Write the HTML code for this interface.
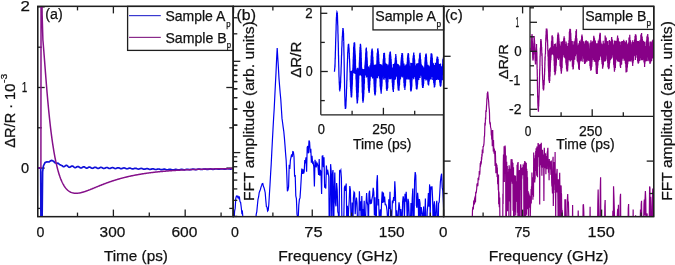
<!DOCTYPE html>
<html><head><meta charset="utf-8"><style>
html,body{margin:0;padding:0;background:#fff;width:675px;height:265px;overflow:hidden}
svg{display:block}
text{font-family:"Liberation Sans", sans-serif;fill:#111;stroke:#111;stroke-width:0.25px}
svg{will-change:transform}
</style></head><body>
<svg xmlns="http://www.w3.org/2000/svg" width="675" height="265" viewBox="0 0 675 265">
<rect width="675" height="265" fill="#fff"/>
<defs>
<clipPath id="ca"><rect x="37.7" y="6.4" width="195.60000000000002" height="210.2"/></clipPath>
<clipPath id="cb"><rect x="233.3" y="6.4" width="210.3" height="210.2"/></clipPath>
<clipPath id="cc"><rect x="443.6" y="6.4" width="210.10000000000002" height="210.2"/></clipPath>
<clipPath id="cib"><rect x="320.8" y="6.4" width="122.80000000000001" height="108.39999999999999"/></clipPath>
<clipPath id="cic"><rect x="530.0" y="6.4" width="123.70000000000005" height="109.89999999999999"/></clipPath>
</defs>
<rect x="37.7" y="6.4" width="195.6" height="210.2" fill="none" stroke="#1e1e1e" stroke-width="1.3"/>
<line x1="41.6" y1="216.6" x2="41.6" y2="209.6" stroke="#1e1e1e" stroke-width="1.3"/>
<line x1="41.6" y1="6.4" x2="41.6" y2="13.4" stroke="#1e1e1e" stroke-width="1.3"/>
<line x1="77.5" y1="216.6" x2="77.5" y2="212.6" stroke="#1e1e1e" stroke-width="1.3"/>
<line x1="77.5" y1="6.4" x2="77.5" y2="10.4" stroke="#1e1e1e" stroke-width="1.3"/>
<line x1="113.39" y1="216.6" x2="113.39" y2="209.6" stroke="#1e1e1e" stroke-width="1.3"/>
<line x1="113.39" y1="6.4" x2="113.39" y2="13.4" stroke="#1e1e1e" stroke-width="1.3"/>
<line x1="149.28" y1="216.6" x2="149.28" y2="212.6" stroke="#1e1e1e" stroke-width="1.3"/>
<line x1="149.28" y1="6.4" x2="149.28" y2="10.4" stroke="#1e1e1e" stroke-width="1.3"/>
<line x1="185.18" y1="216.6" x2="185.18" y2="209.6" stroke="#1e1e1e" stroke-width="1.3"/>
<line x1="185.18" y1="6.4" x2="185.18" y2="13.4" stroke="#1e1e1e" stroke-width="1.3"/>
<line x1="221.08" y1="216.6" x2="221.08" y2="212.6" stroke="#1e1e1e" stroke-width="1.3"/>
<line x1="221.08" y1="6.4" x2="221.08" y2="10.4" stroke="#1e1e1e" stroke-width="1.3"/>
<line x1="37.7" y1="208.4" x2="41.7" y2="208.4" stroke="#1e1e1e" stroke-width="1.3"/>
<line x1="233.3" y1="208.4" x2="229.3" y2="208.4" stroke="#1e1e1e" stroke-width="1.3"/>
<line x1="37.7" y1="168.1" x2="44.7" y2="168.1" stroke="#1e1e1e" stroke-width="1.3"/>
<line x1="233.3" y1="168.1" x2="226.3" y2="168.1" stroke="#1e1e1e" stroke-width="1.3"/>
<line x1="37.7" y1="127.8" x2="41.7" y2="127.8" stroke="#1e1e1e" stroke-width="1.3"/>
<line x1="233.3" y1="127.8" x2="229.3" y2="127.8" stroke="#1e1e1e" stroke-width="1.3"/>
<line x1="37.7" y1="87.5" x2="44.7" y2="87.5" stroke="#1e1e1e" stroke-width="1.3"/>
<line x1="233.3" y1="87.5" x2="226.3" y2="87.5" stroke="#1e1e1e" stroke-width="1.3"/>
<line x1="37.7" y1="47.2" x2="41.7" y2="47.2" stroke="#1e1e1e" stroke-width="1.3"/>
<line x1="233.3" y1="47.2" x2="229.3" y2="47.2" stroke="#1e1e1e" stroke-width="1.3"/>
<line x1="37.7" y1="6.9" x2="44.7" y2="6.9" stroke="#1e1e1e" stroke-width="1.3"/>
<line x1="233.3" y1="6.9" x2="226.3" y2="6.9" stroke="#1e1e1e" stroke-width="1.3"/>
<polyline points="30,168.1 40.7,168.1 41,240 41.9,240 42.6,172 43.4,166 45,162.6 47,161.8 49,162 50.5,160.9 52,160.4 53.5,161.2 55,162.8 56.5,163.3 58,163.2 60,164.8 62.2,165.7 62.6,166.1 63,166.44 63.4,166.64 63.8,166.7 64.2,166.6 64.6,166.38 65,166.09 65.4,165.79 65.8,165.54 66.2,165.41 66.6,165.41 67,165.57 67.4,165.85 67.8,166.22 68.2,166.6 68.6,166.95 69,167.19 69.4,167.3 69.8,167.27 70.2,167.09 70.6,166.83 71,166.53 71.4,166.26 71.8,166.07 72.2,166.02 72.6,166.09 73,166.3 73.4,166.6 73.8,166.95 74.2,167.27 74.6,167.52 75,167.66 75.4,167.66 75.8,167.54 76.2,167.31 76.6,167.04 77,166.78 77.4,166.58 77.8,166.48 78.2,166.5 78.6,166.66 79,166.91 79.4,167.22 79.8,167.54 80.2,167.79 80.6,167.95 81,167.99 81.4,167.9 81.8,167.71 82.2,167.46 82.6,167.2 83,166.97 83.4,166.82 83.8,166.79 84.2,166.88 84.6,167.07 85,167.33 85.4,167.62 85.8,167.87 86.2,168.06 86.6,168.13 87,168.1 87.4,167.96 87.8,167.74 88.2,167.49 88.6,167.26 89,167.09 89.4,167.02 89.8,167.07 90.2,167.21 90.6,167.44 91,167.7 91.4,167.95 91.8,168.15 92.2,168.27 92.6,168.28 93,168.18 93.4,168 93.8,167.78 94.2,167.55 94.6,167.37 95,167.27 95.4,167.26 95.8,167.36 96.2,167.53 96.6,167.76 97,168 97.4,168.21 97.8,168.34 98.2,168.38 98.6,168.32 99,168.17 99.4,167.97 99.8,167.74 100.2,167.55 100.6,167.42 101,167.37 101.4,167.43 101.8,167.57 102.2,167.77 102.6,168 103,168.2 103.4,168.36 103.8,168.43 104.2,168.41 104.6,168.3 105,168.12 105.4,167.92 105.8,167.72 106.2,167.57 106.6,167.5 107,167.52 107.4,167.62 107.8,167.79 108.2,168 108.6,168.2 109,168.37 109.4,168.47 109.8,168.48 110.2,168.41 110.6,168.26 111,168.08 111.4,167.89 111.8,167.73 112.2,167.63 112.6,167.61 113,167.68 113.4,167.82 113.8,168.01 114.2,168.21 114.6,168.38 115,168.5 115.4,168.55 115.8,168.51 116.2,168.4 116.6,168.25 117,168.07 117.4,167.91 117.8,167.8 118.2,167.76 118.6,167.8 119,167.91 119.4,168.08 119.8,168.27 120.2,168.45 120.6,168.58 121,168.66 121.4,168.65 121.8,168.58 122.2,168.44 122.6,168.28 123,168.12 123.4,168 123.8,167.93 124.2,167.94 124.6,168.02 125,168.16 125.4,168.34 125.8,168.52 126.2,168.67 126.6,168.76 127,168.78 127.4,168.74 127.8,168.63 128.2,168.48 128.6,168.33 129,168.2 129.4,168.11 129.8,168.09 130.2,168.15 130.6,168.26 131,168.42 131.4,168.59 131.8,168.74 132.2,168.86 132.6,168.91 133,168.89 133.4,168.8 133.8,168.68 134.2,168.53 134.6,168.4 135,168.3 135.4,168.26 135.8,168.29 136.2,168.38 136.6,168.52 137,168.68 137.4,168.84 137.8,168.96 138.2,169.04 138.6,169.04 139,168.99 139.4,168.89 139.8,168.75 140.2,168.62 140.6,168.51 141,168.46 141.4,168.46 141.8,168.53 142.2,168.64 142.6,168.79 143,168.95 143.4,169.08 143.8,169.17 144.2,169.2 144.6,169.17 145,169.09 145.4,168.97 145.8,168.85 146.2,168.73 146.6,168.66 147,168.64 147.4,168.68 147.8,168.78 148.2,168.91 148.6,169.06 149,169.2 149.4,169.3 149.8,169.35 150.2,169.35 150.6,169.29 151,169.19 151.4,169.07 151.8,168.95 152.2,168.87 152.6,168.83 153,168.85 153.4,168.92 153.8,169.04 154.2,169.18 154.6,169.31 155,169.43 155.4,169.5 155.8,169.51 156.2,169.47 156.6,169.39 157,169.27 157.4,169.16 157.8,169.06 158.2,169.01 158.6,169 159,169.05 159.4,169.15 159.8,169.27 160.2,169.41 160.6,169.53 161,169.61 161.4,169.64 161.8,169.62 162.2,169.56 162.6,169.46 163,169.35 163.4,169.25 163.8,169.18 164.2,169.15 164.6,169.18 165,169.26 165.4,169.37 165.8,169.5 166.2,169.62 166.6,169.72 167,169.77 167.4,169.77 167.8,169.72 168.2,169.64 168.6,169.53 169,169.43 169.4,169.35 169.8,169.31 170.2,169.32 170.6,169.38 171,169.48 171.4,169.6 171.8,169.72 172.2,169.82 172.6,169.89 173,169.91 173.4,169.88 173.8,169.81 174.2,169.72 174.6,169.61 175,169.53 175.4,169.46 175.8,169.43 176.2,169.45 176.6,169.52 177,169.61 177.4,169.72 177.8,169.81 178.2,169.87 178.6,169.89 179,169.87 179.4,169.8 179.8,169.7 180.2,169.58 180.6,169.48 181,169.4 181.4,169.35 181.8,169.36 182.2,169.41 182.6,169.49 183,169.59 183.4,169.68 183.8,169.75 184.2,169.79 184.6,169.78 185,169.73 185.4,169.64 185.8,169.53 186.2,169.43 186.6,169.34 187,169.28 187.4,169.27 187.8,169.3 188.2,169.37 188.6,169.46 189,169.55 189.4,169.63 189.8,169.68 190.2,169.69 190.6,169.65 191,169.58 191.4,169.48 191.8,169.38 192.2,169.28 192.6,169.21 193,169.18 193.4,169.2 193.8,169.25 194.2,169.33 194.6,169.42 195,169.51 195.4,169.57 195.8,169.59 196.2,169.57 196.6,169.51 197,169.43 197.4,169.32 197.8,169.22 198.2,169.15 198.6,169.1 199,169.1 199.4,169.14 199.8,169.21 200.2,169.3 200.6,169.38 201,169.45 201.4,169.49 201.8,169.49 202.2,169.45 202.6,169.37 203,169.27 203.4,169.17 203.8,169.09 204.2,169.04 204.6,169.02 205,169.04 205.4,169.1 205.8,169.18 206.2,169.27 206.6,169.34 207,169.39 207.4,169.4 207.8,169.38 208.2,169.31 208.6,169.22 209,169.13 209.4,169.04 209.8,168.97 210.2,168.94 210.6,168.95 211,168.99 211.4,169.07 211.8,169.15 212.2,169.23 212.6,169.29 213,169.31 213.4,169.3 213.8,169.25 214.2,169.17 214.6,169.08 215,168.99 215.4,168.91 215.8,168.87 216.2,168.86 216.6,168.89 217,168.95 217.4,169.03 217.8,169.11 218.2,169.18 218.6,169.22 219,169.22 219.4,169.18 219.8,169.12 220.2,169.03 220.6,168.94 221,168.86 221.4,168.8 221.8,168.78 222.2,168.8 222.6,168.85 223,168.92 223.4,169 223.8,169.07 224.2,169.12 224.6,169.13 225,169.11 225.4,169.06 225.8,168.98 226.2,168.89 226.6,168.8 227,168.74 227.4,168.7 227.8,168.71 228.2,168.74 228.6,168.81 229,168.88 229.4,168.96 229.8,169.02 230.2,169.04 230.6,169.04 231,168.99 231.4,168.92 231.8,168.84 232.2,168.75 232.6,168.68 233,168.63 233.4,168.62 233.8,168.64 234.2,168.7" fill="none" stroke="#1010d8" stroke-width="1.7" clip-path="url(#ca)" stroke-linejoin="round"/>
<polyline points="30,168.1 40.9,168.1 41.05,-6 41.7,0 42.9,40 43.04,41.55 43.16,42.93 43.28,44.34 43.39,45.79 43.51,47.25 43.63,48.74 43.75,50.25 43.87,51.77 43.99,53.31 44.11,54.85 44.23,56.41 44.35,57.97 44.47,59.54 44.59,61.11 44.71,62.68 44.83,64.25 44.95,65.82 45.07,67.39 45.19,68.95 45.31,70.52 45.43,72.07 45.55,73.62 45.67,75.16 45.79,76.69 45.91,78.22 46.03,79.73 46.15,81.24 46.27,82.73 46.39,84.21 46.51,85.69 46.63,87.15 46.74,88.6 46.86,90.03 46.98,91.46 47.1,92.87 47.22,94.27 47.34,95.65 47.46,97.02 47.58,98.38 47.7,99.73 47.82,101.06 47.94,102.37 48.06,103.68 48.18,104.97 48.3,106.24 48.42,107.5 48.54,108.75 48.66,109.98 48.78,111.2 48.9,112.41 49.02,113.6 49.14,114.78 49.26,115.94 49.38,117.09 49.5,118.23 49.62,119.35 49.74,120.46 49.86,121.56 49.98,122.64 50.1,123.71 50.21,124.77 50.33,125.81 50.45,126.84 50.57,127.86 50.69,128.86 50.81,129.86 50.93,130.84 51.05,131.81 51.17,132.76 51.29,133.7 51.41,134.63 51.53,135.55 51.65,136.46 51.77,137.36 51.89,138.24 52.01,139.11 52.13,139.97 52.25,140.82 52.37,141.66 52.49,142.49 52.61,143.31 52.73,144.11 52.85,144.91 52.97,145.69 53.09,146.47 53.21,147.23 53.33,147.99 53.45,148.73 53.56,149.47 53.68,150.19 53.8,150.9 53.92,151.61 54.04,152.3 54.16,152.99 54.28,153.66 54.4,154.33 54.52,154.99 54.64,155.64 54.76,156.28 54.88,156.91 55,157.53 55.12,158.15 55.24,158.75 55.36,159.35 55.48,159.94 55.6,160.52 55.72,161.09 55.84,161.65 55.96,162.21 56.44,164.36 56.92,166.39 57.39,168.3 57.87,170.11 58.35,171.82 58.83,173.42 59.31,174.93 59.79,176.36 60.27,177.69 60.74,178.95 61.22,180.13 61.7,181.24 62.18,182.28 62.66,183.25 63.14,184.15 63.62,185 64.09,185.79 64.57,186.53 65.05,187.21 65.53,187.85 66.01,188.44 66.49,188.98 66.97,189.48 67.44,189.95 67.92,190.37 68.4,190.76 68.88,191.11 69.36,191.43 69.84,191.72 70.32,191.98 70.79,192.21 71.27,192.42 71.75,192.6 72.23,192.76 72.71,192.89 73.19,193 73.67,193.1 74.14,193.17 74.62,193.23 75.1,193.27 75.58,193.29 76.06,193.3 76.54,193.29 77.02,193.27 77.5,193.23 77.97,193.19 78.45,193.13 78.93,193.06 79.41,192.98 79.89,192.89 80.37,192.8 80.85,192.69 81.32,192.58 81.8,192.46 82.28,192.33 82.76,192.2 83.24,192.06 83.72,191.91 84.2,191.76 84.67,191.61 85.15,191.45 85.63,191.28 86.11,191.11 86.59,190.94 87.07,190.77 87.55,190.59 88.02,190.41 88.5,190.23 88.98,190.04 89.46,189.85 89.94,189.67 90.42,189.47 90.9,189.28 91.37,189.09 91.85,188.9 92.33,188.7 92.81,188.51 93.29,188.31 93.77,188.11 94.25,187.92 94.72,187.72 95.2,187.52 95.68,187.32 96.16,187.13 96.64,186.93 97.12,186.73 97.6,186.54 98.07,186.34 98.55,186.15 99.03,185.95 99.51,185.76 99.99,185.57 100.47,185.37 100.95,185.18 101.43,184.99 101.9,184.81 102.38,184.62 102.86,184.43 103.34,184.25 103.82,184.06 104.3,183.88 104.78,183.7 105.25,183.52 105.73,183.34 106.21,183.16 106.69,182.98 107.17,182.81 107.65,182.63 108.13,182.46 108.6,182.29 109.08,182.12 109.56,181.96 110.04,181.79 110.52,181.62 111,181.46 111.48,181.3 111.95,181.14 112.43,180.98 112.91,180.82 113.39,180.67 113.87,180.51 114.35,180.36 114.83,180.21 115.3,180.06 115.78,179.91 116.26,179.77 116.74,179.62 117.22,179.48 117.7,179.34 118.18,179.2 118.65,179.06 119.13,178.92 119.61,178.79 120.09,178.65 120.57,178.52 121.05,178.39 121.53,178.26 122,178.13 122.48,178 122.96,177.88 123.44,177.75 123.92,177.63 124.4,177.51 124.88,177.39 125.36,177.27 125.83,177.15 126.31,177.04 126.79,176.92 127.27,176.81 127.75,176.7 128.23,176.59 128.71,176.48 129.18,176.37 129.66,176.27 130.14,176.16 130.62,176.06 131.1,175.96 131.58,175.85 132.06,175.75 132.53,175.65 133.01,175.56 133.49,175.46 133.97,175.37 134.45,175.27 134.93,175.18 135.41,175.09 135.88,175 136.36,174.91 136.84,174.82 137.32,174.73 137.8,174.64 138.28,174.56 138.76,174.48 139.23,174.39 139.71,174.31 140.19,174.23 140.67,174.15 141.15,174.07 141.63,173.99 142.11,173.92 142.58,173.84 143.06,173.76 143.54,173.69 144.02,173.62 144.5,173.55 144.98,173.47 145.46,173.4 145.93,173.33 146.41,173.27 146.89,173.2 147.37,173.13 147.85,173.07 148.33,173 148.81,172.94 149.28,172.87 149.76,172.81 150.24,172.75 150.72,172.69 151.2,172.63 151.68,172.57 152.16,172.51 152.64,172.45 153.11,172.39 153.59,172.34 154.07,172.28 154.55,172.23 155.03,172.17 155.51,172.12 155.99,172.07 156.46,172.01 156.94,171.96 157.42,171.91 157.9,171.86 158.38,171.81 158.86,171.76 159.34,171.71 159.81,171.67 160.29,171.62 160.77,171.57 161.25,171.53 161.73,171.48 162.21,171.44 162.69,171.39 163.16,171.35 163.64,171.31 164.12,171.26 164.6,171.22 165.08,171.18 165.56,171.14 166.04,171.1 166.51,171.06 166.99,171.02 167.47,170.98 167.95,170.95 168.43,170.91 168.91,170.87 169.39,170.83 169.86,170.8 170.34,170.76 170.82,170.73 171.3,170.69 171.78,170.66 172.26,170.62 172.74,170.59 173.22,170.56 173.69,170.53 174.17,170.49 174.65,170.46 175.13,170.43 175.61,170.4 176.09,170.37 176.57,170.34 177.04,170.31 177.52,170.28 178,170.25 178.48,170.22 178.96,170.19 179.44,170.17 179.92,170.14 180.39,170.11 180.87,170.09 181.35,170.06 181.83,170.03 182.31,170.01 182.79,169.98 183.27,169.96 183.74,169.93 184.22,169.91 184.7,169.89 185.18,169.86 185.66,169.84 186.14,169.82 186.62,169.79 187.09,169.77 187.57,169.75 188.05,169.73 188.53,169.7 189.01,169.68 189.49,169.66 189.97,169.64 190.44,169.62 190.92,169.6 191.4,169.58 191.88,169.56 192.36,169.54 192.84,169.52 193.32,169.5 193.79,169.49 194.27,169.47 194.75,169.45 195.23,169.43 195.71,169.41 196.19,169.4 196.67,169.38 197.15,169.36 197.62,169.35 198.1,169.33 198.58,169.31 199.06,169.3 199.54,169.28 200.02,169.27 200.5,169.25 200.97,169.23 201.45,169.22 201.93,169.2 202.41,169.19 202.89,169.18 203.37,169.16 203.85,169.15 204.32,169.13 204.8,169.12 205.28,169.11 205.76,169.09 206.24,169.08 206.72,169.07 207.2,169.05 207.67,169.04 208.15,169.03 208.63,169.02 209.11,169 209.59,168.99 210.07,168.98 210.55,168.97 211.02,168.96 211.5,168.95 211.98,168.93 212.46,168.92 212.94,168.91 213.42,168.9 213.9,168.89 214.37,168.88 214.85,168.87 215.33,168.86 215.81,168.85 216.29,168.84 216.77,168.83 217.25,168.82 217.72,168.81 218.2,168.8 218.68,168.79 219.16,168.78 219.64,168.77 220.12,168.77 220.6,168.76 221.08,168.75 221.55,168.74 222.03,168.73 222.51,168.72 222.99,168.71 223.47,168.71 223.95,168.7 224.43,168.69 224.9,168.68 225.38,168.67 225.86,168.67 226.34,168.66 226.82,168.65 227.3,168.64 227.78,168.64 228.25,168.63 228.73,168.62 229.21,168.62 229.69,168.61 230.17,168.6 230.65,168.6 231.13,168.59 231.6,168.58 232.08,168.58 232.56,168.57 233.04,168.56 233.52,168.56 234,168.55 234.48,168.55 234.95,168.54 235.43,168.53 235.91,168.53 236.39,168.52 236.87,168.52 237.35,168.51" fill="none" stroke="#85108a" stroke-width="1.5" clip-path="url(#ca)" stroke-linejoin="round"/>
<rect x="127.6" y="6.4" width="105.7" height="44" fill="#fff" stroke="#1e1e1e" stroke-width="1.3"/>
<line x1="129" y1="15.6" x2="160.8" y2="15.6" stroke="#3a3ad0" stroke-width="1.2"/>
<line x1="129" y1="37.4" x2="160.8" y2="37.4" stroke="#8a2a8a" stroke-width="1.2"/>
<polyline points="232.2,218.99 232.8,222.79 233.4,219.65 234,221.25 234.6,211.11 235.2,208.15 235.8,198.32 236.4,196.16 237,195.84 237.6,197.03 238.2,198.21 238.8,196.5 239.4,197.01 240,201.75 240.6,202.35 241.2,207.02 241.8,212.87 242.4,211.76 243,218.62 243.6,226.81 244.2,238.6 244.8,233.83 245.4,236.34 246,235.92 246.6,230.78 247.2,231.16 247.8,233.13 248.4,231.71 249,240.65 249.6,232.22 250.2,233.65 250.8,233.84 251.4,232.95 252,232.71 252.6,234.84 253.2,233.57 253.8,234.97 254.4,229.96 255,226.68 255.6,223.1 256.2,214.4 256.8,211.59 257.4,205.19 258,199.37 258.6,196.98 259.2,192.65 259.8,191.08 260.4,189.5 261,187.12 261.6,185.5 262.2,183.76 262.8,183.55 263.4,186.29 264,187.67 264.6,189.98 265.2,192.72 265.8,200.29 266.4,206.67 267,207.04 267.6,211.01 268.2,210.28 268.8,204.45 269.4,194.55 270,184.71 270.6,174.02 271.2,164.21 271.8,151.99 272.4,140.52 273,129.31 273.6,118.28 274.2,108.68 274.8,96.51 275.4,84.41 276,72.85 276.6,59.34 277.2,48.11 277.8,58.21 278.4,67.7 279,78.64 279.6,86.03 280.2,93.23 280.8,99.5 281.4,108.98 282,118.4 282.6,122.72 283.2,127.4 283.8,131.47 284.4,137.87 285,145.35 285.6,153.61 286.2,160.76 286.8,175.19 287.4,191.28 288,189.78 288.6,186.57 289.2,164.73 289.8,168.95 290.4,160.19 291,157.32 291.6,154.34 292.2,157.04 292.8,151.68 293.4,151.89 294,156.6 294.6,176.62 295.2,175 295.8,195.84 296.4,198.59 297,214.13 297.6,217.01 298.2,218.17 298.8,205.1 299.4,199.51 300,197.91 300.6,189.29 301.2,178.98 301.8,168.45 302.4,173.91 303,169.37 303.6,173.67 304.2,171.7 304.8,160.15 305.4,161.65 306,157.32 306.6,171.72 307.2,147.39 307.8,146.04 308.4,153.34 309,140.44 309.6,142.22 310.2,152.61 310.8,148.86 311.4,162.81 312,155.69 312.6,163 313.2,162.34 313.8,166.79 314.4,186.57 315,159.73 315.6,163.76 316.2,167.41 316.8,162.77 317.4,164.05 318,166.56 318.6,174.95 319.2,158.94 319.8,175.8 320.4,169.81 321,172.58 321.6,194 322.2,156.15 322.8,155.93 323.4,167.19 324,157.33 324.6,187.66 325.2,186.09 325.8,188.51 326.4,165.5 327,174.72 327.6,169.71 328.2,172.99 328.8,177.02 329.4,246.05 330,216.77 330.6,164.15 331.2,171.35 331.8,225.03 332.4,174.33 333,169.98 333.6,238.6 334.2,191.47 334.8,172.5 335.4,202.75 336,206.3 336.6,183 337.2,189.85 337.8,211.62 338.4,213.97 339,230.71 339.6,170.91 340.2,171.43 340.8,170.16 341.4,178.09 342,229.09 342.6,232.96 343.2,222.25 343.8,219.22 344.4,187.89 345,185.59 345.6,190.88 346.2,183.5 346.8,224.76 347.4,205.79 348,227.92 348.6,209.41 349.2,200.96 349.8,186.02 350.4,190.09 351,218.27 351.6,234.27 352.2,202.54 352.8,229.88 353.4,198.14 354,191.94 354.6,192.84 355.2,214.24 355.8,203.94 356.4,197.62 357,202.82 357.6,224.22 358.2,217.05 358.8,222.31 359.4,191.34 360,210.71 360.6,201.2 361.2,222.29 361.8,196.08 362.4,218.46 363,209.12 363.6,216.33 364.2,200.85 364.8,231.27 365.4,223.25 366,204.69 366.6,193 367.2,202.46 367.8,205.25 368.4,227.28 369,193.49 369.6,190.74 370.2,204.1 370.8,199.62 371.4,203.72 372,198.55 372.6,195.97 373.2,187.8 373.8,192.31 374.4,215.39 375,197.36 375.6,218.83 376.2,230.54 376.8,182.25 377.4,175.14 378,205.5 378.6,199.06 379.2,218.48 379.8,218.12 380.4,209.2 381,218.38 381.6,202.11 382.2,191.46 382.8,202.96 383.4,192.54 384,202.09 384.6,196.49 385.2,204.55 385.8,204.5 386.4,206.14 387,210.3 387.6,218.93 388.2,225.46 388.8,199.38 389.4,208.95 390,191.71 390.6,218.86 391.2,210.96 391.8,216.13 392.4,200.45 393,203.19 393.6,197.15 394.2,201.03 394.8,181.21 395.4,192.56 396,217.7 396.6,210.28 397.2,216.66 397.8,229.29 398.4,211.02 399,202.4 399.6,206.72 400.2,220.19 400.8,209.15 401.4,215.46 402,228.65 402.6,202.03 403.2,196.4 403.8,200.1 404.4,218.84 405,193.66 405.6,201.76 406.2,191.78 406.8,205.04 407.4,228.28 408,198.83 408.6,201.75 409.2,215.89 409.8,224.29 410.4,223.49 411,203.14 411.6,222.16 412.2,199.05 412.8,188.41 413.4,229.97 414,227.01 414.6,180.34 415.2,171.99 415.8,175.47 416.4,205.76 417,207.85 417.6,192.74 418.2,199.83 418.8,228.46 419.4,199 420,203.09 420.6,228.25 421.2,207.03 421.8,211.01 422.4,214.14 423,236.35 423.6,206.43 424.2,242.46 424.8,217.48 425.4,198.49 426,236.16 426.6,239.3 427.2,211.83 427.8,204.75 428.4,193.04 429,206.69 429.6,184.39 430.2,216.93 430.8,186.62 431.4,188.02 432,186.36 432.6,198.65 433.2,228.22 433.8,206.17 434.4,201.29 435,228.48 435.6,217.29 436.2,205.94 436.8,200.8 437.4,222.34 438,236.98 438.6,203.39 439.2,202.08 439.8,192.34 440.4,181.73 441,176.6 441.6,173.68 442.2,187.14 442.8,190.56 443.4,202.58 444,220.29 444.6,205.41" fill="none" stroke="#0000f0" stroke-width="1.2" clip-path="url(#cb)"/>
<polyline points="559.65,234.55 560,205.76 560.35,210.11 560.7,228.48 561.05,208.75 561.4,206.78 561.75,213.54 562.1,241.58 562.45,246.6 562.8,246.6 563.15,246.6 563.5,246.6 563.85,246.6 564.2,228.85 564.55,246.6 564.9,199.22 565.25,211.66 565.6,199.18 565.95,246.6 566.3,246.6 566.65,246.6 567,221.13 567.35,200.32 567.7,194.03 568.05,204.05 568.4,201.4 568.75,217.01 569.1,230.8 569.45,246.6 569.8,246.6 570.15,246.6 570.5,246.6 570.85,242.37 571.2,240.16 571.55,237.36 571.9,228.52 572.25,246.6 572.6,205.05 572.95,246.6 573.3,228.47 573.65,246.6 574,240.77 574.35,246.6 574.7,246.6 575.05,244.62 575.4,246.6 575.75,237.99 576.1,228.8 576.45,236.87 576.8,241.9 577.15,246.6 577.5,216.32 577.85,242.92 578.2,210.55 578.55,223.45 578.9,246.6 579.25,239.93 579.6,246.6 579.95,236.19 580.3,246.04 580.65,246.6 581,246.6 581.35,246.6 581.7,242.8 582.05,234.77 582.4,246.6 582.75,246.6 583.1,205.36 583.45,204.25 583.8,211.61 584.15,231.52 584.5,239.98 584.85,246.6 585.2,246.16 585.55,219.75 585.9,231.24 586.25,234.03 586.6,246.6 586.95,246.6 587.3,246.6 587.65,246.6 588,246.6 588.35,245.36 588.7,246.6 589.05,226.8 589.4,231.55 589.75,237.93 590.1,206.83 590.45,246.6 590.8,227.68 591.15,246.6 591.5,246.6 591.85,246.6 592.2,246.6 592.55,230.58 592.9,246.6 593.25,246.6 593.6,246.6 593.95,246.6 594.3,246.6 594.65,246.6 595,217.34 595.35,241.7 595.7,219.32 596.05,229.32 596.4,241.15 596.75,240.96 597.1,230.57 597.45,238.13 597.8,204.39 598.15,189.46 598.5,205.87 598.85,226.31 599.2,246.6 599.55,246.6 599.9,246.6 600.25,189.66 600.6,177.28 600.95,238.31 601.3,246.6 601.65,246.6 602,232.17 602.35,246.6 602.7,246.6 603.05,246.6 603.4,246.6 603.75,246.6 604.1,246.6 604.45,246.6 604.8,206.58 605.15,199.98 605.5,246.6 605.85,246.6 606.2,246.6 606.55,246.6 606.9,246.6 607.25,246.6 607.6,234.54 607.95,235.35 608.3,244.02 608.65,245.86 609,246.6 609.35,246.6 609.7,246.6 610.05,246.6 610.4,246.6 610.75,246.6 611.1,233.42 611.45,246.6 611.8,246.6 612.15,227.33 612.5,234.54 612.85,210.68 613.2,246.6 613.55,186.21 613.9,195.53 614.25,207.11 614.6,221.96 614.95,245.57 615.3,234.92 615.65,223.56 616,218.55 616.35,218.16 616.7,219.52 617.05,225.58 617.4,213.45 617.75,208.72 618.1,221.49 618.45,204.83 618.8,241.78 619.15,246.6 619.5,246.6 619.85,243 620.2,197.5 620.55,193.83 620.9,246.6 621.25,233.55 621.6,230.6 621.95,246.6 622.3,233.28 622.65,232.66 623,218.19 623.35,229.21 623.7,246.6 624.05,246.6 624.4,246.6 624.75,246.6 625.1,246.6 625.45,243.72 625.8,246.6 626.15,246.6 626.5,246.6 626.85,246.6 627.2,246.6 627.55,246.6 627.9,246.6 628.25,208.51 628.6,204.11 628.95,235.85 629.3,246.6 629.65,234.54 630,246.6 630.35,246.6 630.7,246.6 631.05,246.6 631.4,246.6 631.75,246.6 632.1,222.89 632.45,217.73 632.8,242.34 633.15,209.4 633.5,244.71 633.85,246.6 634.2,229.91 634.55,246.6 634.9,246.6 635.25,243.04 635.6,215.19 635.95,242.18 636.3,219.71 636.65,246.6 637,221.53 637.35,222.12 637.7,215.91 638.05,246.6 638.4,239.11 638.75,219.99 639.1,246.6 639.45,245.93 639.8,246.6 640.15,223.22 640.5,209.5 640.85,246.6 641.2,204.48 641.55,200.87 641.9,234.95 642.25,228 642.6,243.89 642.95,241.98 643.3,246.6 643.65,221.38 644,204.07 644.35,199.52 644.7,215.52 645.05,199.04 645.4,191.09 645.75,199.57 646.1,226.74 646.45,244.27 646.8,216.47 647.15,213.41 647.5,246.6 647.85,246.6 648.2,246.6 648.55,246.6 648.9,216.79 649.25,221.06 649.6,186.42 649.95,187.83 650.3,246.6 650.65,196.66 651,206.08 651.35,223.52 651.7,220.91 652.05,246.6 652.4,198.81 652.75,188.56 653.1,246.6 653.45,229.79 653.8,246.6 654.15,197.42" fill="none" stroke="#870087" stroke-width="1.2" clip-path="url(#cc)"/>
<polyline points="443.3,246.6 443.5,246.6 443.7,246.6 443.9,246.6 444.1,246.6 444.3,246.6 444.5,246.6 444.7,246.6 444.9,246.6 445.1,246.6 445.3,246.6 445.5,246.6 445.7,246.6 445.9,246.6 446.1,246.6 446.3,246.6 446.5,246.6 446.7,246.6 446.9,246.6 447.1,246.6 447.3,246.6 447.5,246.6 447.7,246.6 447.9,246.6 448.1,246.6 448.3,246.6 448.5,246.6 448.7,246.6 448.9,246.6 449.1,246.6 449.3,246.6 449.5,246.6 449.7,246.6 449.9,246.6 450.1,246.6 450.3,246.6 450.5,246.6 450.7,246.6 450.9,246.6 451.1,246.6 451.3,246.6 451.5,246.6 451.7,246.6 451.9,246.6 452.1,246.6 452.3,246.6 452.5,246.6 452.7,246.6 452.9,246.6 453.1,246.6 453.3,246.6 453.5,246.6 453.7,246.6 453.9,246.6 454.1,246.6 454.3,246.6 454.5,246.6 454.7,246.6 454.9,246.6 455.1,246.6 455.3,246.6 455.5,246.6 455.7,246.6 455.9,246.6 456.1,246.6 456.3,246.6 456.5,246.6 456.7,246.6 456.9,246.6 457.1,246.6 457.3,246.6 457.5,246.6 457.7,246.6 457.9,246.6 458.1,246.6 458.3,246.6 458.5,246.6 458.7,246.6 458.9,246.6 459.1,246.6 459.3,246.6 459.5,246.6 459.7,246.6 459.9,246.6 460.1,246.6 460.3,246.6 460.5,246.6 460.7,246.6 460.9,246.6 461.1,246.6 461.3,246.6 461.5,246.6 461.7,246.6 461.9,246.6 462.1,246.6 462.3,246.6 462.5,246.6 462.7,246.6 462.9,246.6 463.1,246.6 463.3,246.6 463.5,246.6 463.7,246.6 463.9,246.6 464.1,246.6 464.3,246.6 464.5,246.6 464.7,246.6 464.9,246.6 465.1,246.6 465.3,246.6 465.5,246.6 465.7,246.6 465.9,246.6 466.1,246.6 466.3,246.6 466.5,246.6 466.7,246.6 466.9,246.6 467.1,246.6 467.3,246.6 467.5,246.6 467.7,246.6 467.9,246.6 468.1,246.6 468.3,246.6 468.5,246.6 468.7,246.6 468.9,246.6 469.1,246.6 469.3,246.6 469.5,246.6 469.7,246.6 469.9,246.6 470.1,246.6 470.3,246.6 470.5,246 470.7,235.36 470.9,238.69 471.1,237.38 471.3,226.7 471.5,227.21 471.7,223.21 471.9,216.76 472.1,217.83 472.3,217.61 472.5,210.1 472.7,208.58 472.9,206.7 473.1,208.66 473.3,209.38 473.5,206.33 473.7,201.1 473.9,200.84 474.1,204.76 474.3,199.66 474.5,204.13 474.7,197.56 474.9,202.68 475.1,197.22 475.3,195.92 475.5,202.31 475.7,192.53 475.9,192.57 476.1,192.9 476.3,192.45 476.5,190.28 476.7,188.83 476.9,185.39 477.1,185.58 477.3,183.45 477.5,183.37 477.7,186.02 477.9,185.13 478.1,178.78 478.3,178.84 478.5,177.5 478.7,180.09 478.9,176.92 479.1,176.41 479.3,171.1 479.5,173.53 479.7,174.81 479.9,172.01 480.1,166.95 480.3,163.08 480.5,166.84 480.7,161.36 480.9,164.78 481.1,162.55 481.3,163.42 481.5,157.08 481.7,159.75 481.9,154.03 482.1,156.43 482.3,149.46 482.5,152.32 482.7,151.15 482.9,153.32 483.1,145.96 483.3,146.87 483.5,146.04 483.7,145.5 483.9,144.19 484.1,141.58 484.3,136.17 484.5,136.63 484.7,131.72 484.9,122.78 485.1,125.82 485.3,123.62 485.5,117.44 485.7,119.58 485.9,110.37 486.1,111.22 486.3,111.27 486.5,105.87 486.7,104.04 486.9,98.68 487.1,97.81 487.3,93.15 487.5,93.92 487.7,91.56 487.9,93.15 488.1,95.69 488.3,98.57 488.5,99.92 488.7,102.22 488.9,105.98 489.1,108.09 489.3,109.23 489.5,113.21 489.7,121.9 489.9,123.35 490.1,123.16 490.3,122.22 490.5,126.58 490.7,127.66 490.9,128.13 491.1,129.73 491.3,135.52 491.5,130.14 491.7,138.66 491.9,139.58 492.1,137.25 492.3,146.16 492.5,131.2 492.7,130.05 492.9,139.74 493.1,141.9 493.3,151.47 493.5,139.92 493.7,146.89 493.9,150.15 494.1,153.61 494.3,148.6 494.5,150.5 494.7,152.16 494.9,156.95 495.1,166.05 495.3,150.66 495.5,156.02 495.7,164.41 495.9,173.19 496.1,171.25 496.3,163.21 496.5,165.38 496.7,168.79 496.9,164.84 497.1,177.07 497.3,167.5 497.5,175.71 497.7,184.18 497.9,176.67 498.1,180.77 498.3,190.17 498.5,174.6 498.7,204.35 498.9,191.57 499.1,194.1 499.3,207.32 499.5,204.15 499.7,197.51 499.9,221.75 500.1,221.61 500.3,219.23 500.5,220.83 500.7,221.07 500.9,231.92 501.1,246.6 501.3,226.34 501.5,233.72 501.7,221.55 501.9,246.6 502.1,229.76 502.3,228.57 502.5,223.71 502.7,238.54 502.9,193.79 503.1,204.04 503.3,163 503.5,154.59 503.7,174.73 503.9,178.56 504.1,146.27 504.3,182.1 504.5,160.61 504.7,152.21 504.9,156.52 505.1,145.57 505.3,148.75 505.5,160.72 505.7,179.44 505.9,225.35 506.1,155.55 506.3,234.26 506.5,193.41 506.7,161.63 506.9,190.74 507.1,188.49 507.3,166.08 507.5,211.22 507.7,171.85 507.9,200.82 508.1,200.45 508.3,196.29 508.5,190.97 508.7,169.04 508.9,232.25 509.1,165.17 509.3,167.83 509.5,175.9 509.7,201.48 509.9,170.44 510.1,177.21 510.3,186.45 510.5,168.82 510.7,220 510.9,167.35 511.1,159.23 511.3,160.04 511.5,177.71 511.7,181.82 511.9,162.17 512.1,159.28 512.3,183.68 512.5,162.38 512.7,172.84 512.9,162.92 513.1,210.85 513.3,180.33 513.5,167.16 513.7,244.47 513.9,176.61 514.1,204.8 514.3,222.11 514.5,176.74 514.7,175.34 514.9,178.37 515.1,211.66 515.3,182.95 515.5,175.77 515.7,215.55 515.9,190.37 516.1,201.95 516.3,200.48 516.5,196.69 516.7,181.23 516.9,184.07 517.1,164.68 517.3,177.86 517.5,212.81 517.7,162.76 517.9,217.1 518.1,161.88 518.3,187.6 518.5,238.32 518.7,193.69 518.9,186.06 519.1,170.55 519.3,222.77 519.5,169.97 519.7,178.63 519.9,226.62 520.1,172.2 520.3,189.62 520.5,166.67 520.7,164.39 520.9,166.41 521.1,189.76 521.3,176.12 521.5,228.82 521.7,175.64 521.9,178.68 522.1,168.05 522.3,169.03 522.5,167.19 522.7,169.02 522.9,175.12 523.1,165.59 523.3,165.81 523.5,164.59 523.7,167.7 523.9,223.15 524.1,178.63 524.3,162.98 524.5,245.26 524.7,160.93 524.9,206.59 525.1,162 525.3,162.07 525.5,166.73 525.7,228.45 525.9,168.22 526.1,201.01 526.3,162.74 526.5,214.81 526.7,168.73 526.9,203.61 527.1,171.02 527.3,194.41 527.5,177.17 527.7,209.22 527.9,205.25 528.1,191.11 528.3,205.64 528.5,224.93 528.7,192.59 528.9,199.53 529.1,194.35 529.3,202.46 529.5,195.53 529.7,207.82 529.9,196.24 530.1,199.28 530.3,216.56 530.5,206.91 530.7,202.02 530.9,199.24 531.1,188.91 531.3,203.46 531.5,186.22 531.7,194.94 531.9,172.52 532.1,180.3 532.3,189.06 532.5,193.94 532.7,179.32 532.9,199.7 533.1,177.19 533.3,182.84 533.5,196.85 533.7,152.6 533.9,168.21 534.1,158.87 534.3,158.16 534.5,171.19 534.7,182.55 534.9,178.85 535.1,179.6 535.3,155.16 535.5,170.92 535.7,151.09 535.9,158.07 536.1,148.14 536.3,161.48 536.5,167.83 536.7,175.86 536.9,146.48 537.1,148.31 537.3,164 537.5,177.31 537.7,149.55 537.9,147.78 538.1,143.14 538.3,143.7 538.5,157.12 538.7,155.73 538.9,151.61 539.1,144.87 539.3,166.75 539.5,165.17 539.7,204.46 539.9,150.2 540.1,143.98 540.3,145.34 540.5,152.49 540.7,165.18 540.9,147.76 541.1,145.6 541.3,142.7 541.5,167.87 541.7,160.85 541.9,175.74 542.1,151.97 542.3,168.04 542.5,149.79 542.7,154.24 542.9,165.81 543.1,154.77 543.3,166.72 543.5,154.57 543.7,165.1 543.9,201.07 544.1,161.48 544.3,147.67 544.5,153.52 544.7,158.16 544.9,152.98 545.1,168.27 545.3,156.35 545.5,154.72 545.7,153.4 545.9,174.28 546.1,156.1 546.3,163.2 546.5,166.52 546.7,160.39 546.9,167.14 547.1,169.32 547.3,151.42 547.5,158.93 547.7,148.76 547.9,147.83 548.1,163.09 548.3,163.95 548.5,172.74 548.7,166.87 548.9,166.03 549.1,180.16 549.3,158.94 549.5,165.77 549.7,166.42 549.9,162.77 550.1,165 550.3,161.18 550.5,169.38 550.7,161.35 550.9,173.91 551.1,174.74 551.3,160.56 551.5,168.09 551.7,182.72 551.9,186.41 552.1,173.4 552.3,189.85 552.5,193.54 552.7,176.33 552.9,159.16 553.1,156.87 553.3,205.9 553.5,197.02 553.7,176.95 553.9,193.05 554.1,161.89 554.3,184.55 554.5,170.64 554.7,176.72 554.9,183.79 555.1,152.05 555.3,190 555.5,177.13 555.7,227.53 555.9,173.38 556.1,192.4 556.3,182.24 556.5,187.03 556.7,175.09 556.9,171.08 557.1,168.91 557.3,192.48 557.5,180.22 557.7,184.4 557.9,199.35 558.1,217.62 558.3,179.26 558.5,209.72 558.7,192 558.9,220.35 559.1,180.58 559.3,187.74 559.5,180.24 559.7,172.75 559.9,189.4 560.1,187.28 560.3,232.91 560.5,211.6 560.7,186.71 560.9,186.55 561.1,185.44 561.3,192.64 561.5,194.15 561.7,209.34 561.9,219.52 562.1,217.17 562.3,210.28" fill="none" stroke="#870087" stroke-width="1.2" clip-path="url(#cc)"/>
<rect x="233.3" y="6.4" width="210.3" height="210.2" fill="none" stroke="#1e1e1e" stroke-width="1.3"/>
<rect x="443.6" y="6.4" width="210.1" height="210.2" fill="none" stroke="#1e1e1e" stroke-width="1.3"/>
<line x1="233.5" y1="216.6" x2="233.5" y2="209.6" stroke="#1e1e1e" stroke-width="1.3"/>
<line x1="233.5" y1="6.4" x2="233.5" y2="13.4" stroke="#1e1e1e" stroke-width="1.3"/>
<line x1="443.6" y1="216.6" x2="443.6" y2="209.6" stroke="#1e1e1e" stroke-width="1.3"/>
<line x1="443.6" y1="6.4" x2="443.6" y2="13.4" stroke="#1e1e1e" stroke-width="1.3"/>
<line x1="272.88" y1="216.6" x2="272.88" y2="212.6" stroke="#1e1e1e" stroke-width="1.3"/>
<line x1="272.88" y1="6.4" x2="272.88" y2="10.4" stroke="#1e1e1e" stroke-width="1.3"/>
<line x1="483.1" y1="216.6" x2="483.1" y2="212.6" stroke="#1e1e1e" stroke-width="1.3"/>
<line x1="483.1" y1="6.4" x2="483.1" y2="10.4" stroke="#1e1e1e" stroke-width="1.3"/>
<line x1="312.25" y1="216.6" x2="312.25" y2="209.6" stroke="#1e1e1e" stroke-width="1.3"/>
<line x1="522.6" y1="216.6" x2="522.6" y2="209.6" stroke="#1e1e1e" stroke-width="1.3"/>
<line x1="522.6" y1="6.4" x2="522.6" y2="13.4" stroke="#1e1e1e" stroke-width="1.3"/>
<line x1="351.62" y1="216.6" x2="351.62" y2="212.6" stroke="#1e1e1e" stroke-width="1.3"/>
<line x1="562.1" y1="216.6" x2="562.1" y2="212.6" stroke="#1e1e1e" stroke-width="1.3"/>
<line x1="562.1" y1="6.4" x2="562.1" y2="10.4" stroke="#1e1e1e" stroke-width="1.3"/>
<line x1="391" y1="216.6" x2="391" y2="209.6" stroke="#1e1e1e" stroke-width="1.3"/>
<line x1="601.6" y1="216.6" x2="601.6" y2="209.6" stroke="#1e1e1e" stroke-width="1.3"/>
<line x1="601.6" y1="6.4" x2="601.6" y2="13.4" stroke="#1e1e1e" stroke-width="1.3"/>
<line x1="430.38" y1="216.6" x2="430.38" y2="212.6" stroke="#1e1e1e" stroke-width="1.3"/>
<line x1="641.09" y1="216.6" x2="641.09" y2="212.6" stroke="#1e1e1e" stroke-width="1.3"/>
<line x1="641.09" y1="6.4" x2="641.09" y2="10.4" stroke="#1e1e1e" stroke-width="1.3"/>
<line x1="233.3" y1="61.3" x2="240.3" y2="61.3" stroke="#1e1e1e" stroke-width="1.3"/>
<line x1="233.3" y1="152.6" x2="240.3" y2="152.6" stroke="#1e1e1e" stroke-width="1.3"/>
<line x1="233.3" y1="125.12" x2="237.3" y2="125.12" stroke="#1e1e1e" stroke-width="1.3"/>
<line x1="233.3" y1="109.04" x2="237.3" y2="109.04" stroke="#1e1e1e" stroke-width="1.3"/>
<line x1="233.3" y1="97.63" x2="237.3" y2="97.63" stroke="#1e1e1e" stroke-width="1.3"/>
<line x1="233.3" y1="88.78" x2="237.3" y2="88.78" stroke="#1e1e1e" stroke-width="1.3"/>
<line x1="233.3" y1="81.55" x2="237.3" y2="81.55" stroke="#1e1e1e" stroke-width="1.3"/>
<line x1="233.3" y1="75.44" x2="237.3" y2="75.44" stroke="#1e1e1e" stroke-width="1.3"/>
<line x1="233.3" y1="70.15" x2="237.3" y2="70.15" stroke="#1e1e1e" stroke-width="1.3"/>
<line x1="233.3" y1="65.48" x2="237.3" y2="65.48" stroke="#1e1e1e" stroke-width="1.3"/>
<line x1="233.3" y1="216.42" x2="237.3" y2="216.42" stroke="#1e1e1e" stroke-width="1.3"/>
<line x1="233.3" y1="200.34" x2="237.3" y2="200.34" stroke="#1e1e1e" stroke-width="1.3"/>
<line x1="233.3" y1="188.93" x2="237.3" y2="188.93" stroke="#1e1e1e" stroke-width="1.3"/>
<line x1="233.3" y1="180.08" x2="237.3" y2="180.08" stroke="#1e1e1e" stroke-width="1.3"/>
<line x1="233.3" y1="172.85" x2="237.3" y2="172.85" stroke="#1e1e1e" stroke-width="1.3"/>
<line x1="233.3" y1="166.74" x2="237.3" y2="166.74" stroke="#1e1e1e" stroke-width="1.3"/>
<line x1="233.3" y1="161.45" x2="237.3" y2="161.45" stroke="#1e1e1e" stroke-width="1.3"/>
<line x1="233.3" y1="156.78" x2="237.3" y2="156.78" stroke="#1e1e1e" stroke-width="1.3"/>
<line x1="233.3" y1="33.82" x2="237.3" y2="33.82" stroke="#1e1e1e" stroke-width="1.3"/>
<line x1="233.3" y1="17.74" x2="237.3" y2="17.74" stroke="#1e1e1e" stroke-width="1.3"/>
<line x1="233.3" y1="125.12" x2="237.3" y2="125.12" stroke="#1e1e1e" stroke-width="1.3"/>
<line x1="233.3" y1="109.04" x2="237.3" y2="109.04" stroke="#1e1e1e" stroke-width="1.3"/>
<line x1="233.3" y1="97.63" x2="237.3" y2="97.63" stroke="#1e1e1e" stroke-width="1.3"/>
<line x1="233.3" y1="88.78" x2="237.3" y2="88.78" stroke="#1e1e1e" stroke-width="1.3"/>
<line x1="233.3" y1="81.55" x2="237.3" y2="81.55" stroke="#1e1e1e" stroke-width="1.3"/>
<line x1="233.3" y1="75.44" x2="237.3" y2="75.44" stroke="#1e1e1e" stroke-width="1.3"/>
<line x1="233.3" y1="70.15" x2="237.3" y2="70.15" stroke="#1e1e1e" stroke-width="1.3"/>
<line x1="233.3" y1="65.48" x2="237.3" y2="65.48" stroke="#1e1e1e" stroke-width="1.3"/>
<line x1="443.6" y1="56.3" x2="450.6" y2="56.3" stroke="#1e1e1e" stroke-width="1.3"/>
<line x1="653.7" y1="56.3" x2="646.7" y2="56.3" stroke="#1e1e1e" stroke-width="1.3"/>
<line x1="443.6" y1="161.1" x2="450.6" y2="161.1" stroke="#1e1e1e" stroke-width="1.3"/>
<line x1="653.7" y1="161.1" x2="646.7" y2="161.1" stroke="#1e1e1e" stroke-width="1.3"/>
<line x1="443.6" y1="88.4" x2="447.6" y2="88.4" stroke="#1e1e1e" stroke-width="1.3"/>
<line x1="653.7" y1="88.4" x2="649.7" y2="88.4" stroke="#1e1e1e" stroke-width="1.3"/>
<line x1="443.6" y1="193.5" x2="447.6" y2="193.5" stroke="#1e1e1e" stroke-width="1.3"/>
<line x1="653.7" y1="193.5" x2="649.7" y2="193.5" stroke="#1e1e1e" stroke-width="1.3"/>
<rect x="320.8" y="6.4" width="122.80000000000001" height="108.39999999999999" fill="#fff"/>
<polyline points="334.4,71.15 334.47,71.66 334.54,70.6 334.61,70.05 334.68,69.07 334.75,68.32 334.82,67.85 334.89,65.97 334.96,64.94 335.03,65.06 335.1,61.8 335.17,57.76 335.24,58.96 335.31,55.35 335.38,51.74 335.45,51.19 335.52,47.84 335.59,44.7 335.66,42.14 335.74,39.23 335.81,37.74 335.88,36.25 335.95,32.39 336.02,30.74 336.09,29.87 336.16,24.56 336.23,23.92 336.3,21.37 336.37,18.78 336.44,17.13 336.51,16.63 336.58,15.74 336.65,13.63 336.72,13.27 336.79,13.19 336.86,12.23 336.93,12.48 337,11.96 337.07,12.11 337.14,13.81 337.21,13.21 337.28,13.55 337.35,15.2 337.42,14.86 337.49,16.95 337.56,19.79 337.63,21.53 337.7,24.54 337.77,25.27 337.84,26.22 337.91,32.19 337.98,34.02 338.05,34.67 338.12,40 338.19,41.62 338.26,42.8 338.33,47.25 338.4,50.24 338.47,55.42 338.54,56.1 338.61,59.66 338.68,62.6 338.75,65.39 338.82,67.66 338.89,71.48 338.96,74.9 339.03,76.86 339.1,77.58 339.17,79.45 339.24,82.62 339.31,83.51 339.38,85.09 339.45,85.33 339.52,90.03 339.59,89.83 339.66,88.54 339.73,90.79 339.8,91.34 339.87,87.54 339.94,89.18 340.01,88.99 340.08,89.55 340.15,88.17 340.22,87.33 340.29,86.63 340.36,87.55 340.43,86.75 340.5,82.85 340.57,81.12 340.64,83.3 340.71,78.11 340.78,76.9 340.85,75.81 340.92,74.49 340.99,73.19 341.06,70.66 341.13,67.45 341.2,66.85 341.27,64.57 341.34,64.16 341.41,60.21 341.49,56.83 341.56,55.07 341.63,55.53 341.7,51.52 341.77,47.97 341.84,47.55 341.91,46.24 341.98,45.59 342.05,41.61 342.12,41.6 342.19,40.11 342.26,37.09 342.33,36.17 342.4,36.8 342.47,35.53 342.54,33.56 342.61,32.04 342.68,31.98 342.75,29.96 342.82,29.4 342.89,28.16 342.96,28.68 343.03,28.39 343.1,31.17 343.17,28.4 343.24,30.45 343.32,31.46 343.39,31.28 343.46,34.33 343.53,33.01 343.6,37.64 343.68,41.06 343.75,40.74 343.82,45.15 343.89,50.76 343.96,53.02 344.03,55.9 344.11,60.46 344.18,64.21 344.25,69.42 344.32,73.1 344.39,76.28 344.47,79.73 344.54,84.07 344.61,89.02 344.68,91.44 344.75,94.9 344.82,97.05 344.9,98.56 344.97,101.5 345.04,104.89 345.11,106.04 345.18,106.36 345.26,106.61 345.33,108.92 345.4,108.66 345.47,108.57 345.54,108.34 345.61,108.55 345.68,108 345.75,107.94 345.82,107.04 345.89,106.42 345.96,104.73 346.03,102.28 346.1,101.13 346.17,100.12 346.25,97.65 346.32,96.73 346.39,95.45 346.46,91.53 346.53,88.52 346.6,89.38 346.67,86.03 346.74,84.51 346.81,80.22 346.88,81.02 346.95,77.74 347.02,74.59 347.09,72.09 347.16,70.31 347.23,67.82 347.3,65.54 347.37,62.59 347.44,62.93 347.51,59.66 347.58,57.9 347.65,56.14 347.73,52.01 347.8,53.34 347.87,51.05 347.94,49.79 348.01,48.98 348.08,46.92 348.15,47.86 348.22,45.6 348.29,44.83 348.36,44.46 348.43,45.24 348.5,45.75 348.57,44.48 348.64,43.79 348.71,46.75 348.78,45.15 348.85,48.08 348.92,47.65 349,47.95 349.07,49.09 349.14,51.4 349.21,53.16 349.28,53.5 349.35,56.19 349.42,58.95 349.49,58.37 349.56,59.21 349.63,61.16 349.7,62.72 349.77,65.41 349.84,67.29 349.91,68.68 349.99,72.53 350.06,71.37 350.13,71.58 350.2,79.9 350.27,71.36 350.34,82.16 350.41,71.59 350.48,86.9 350.55,71.61 350.62,88.38 350.69,71.33 350.76,90.99 350.83,71.05 350.9,92.64 350.98,71.12 351.05,95.07 351.12,72.05 351.19,97.19 351.26,71.1 351.33,96.75 351.4,72.35 351.47,96.96 351.54,71.19 351.61,97.41 351.68,71.67 351.76,95.73 351.83,71.92 351.9,92.85 351.97,71.55 352.04,89.13 352.11,70.44 352.18,86.49 352.25,72.8 352.32,84.59 352.39,70.81 352.47,79.97 352.54,70.94 352.61,76.13 352.68,70.06 352.75,72.11 352.82,70.7 352.89,67.85 352.96,72.5 353.03,64.6 353.11,72.99 353.18,59.33 353.25,69.88 353.32,56.57 353.39,71.6 353.46,52.53 353.53,72.43 353.6,46.72 353.67,73.15 353.74,47.05 353.82,70.38 353.89,45.28 353.96,73.2 354.03,42.99 354.1,70.18 354.17,42.89 354.24,73.01 354.31,42.19 354.38,69.18 354.46,42.28 354.53,71.12 354.6,42.49 354.67,72.92 354.74,43.71 354.81,71.6 354.88,48.41 354.95,72.31 355.03,50.65 355.1,73.95 355.17,53.4 355.24,69.39 355.31,55.23 355.38,70.5 355.45,59.24 355.52,69.57 355.6,66.05 355.67,73.43 355.74,68.79 355.81,74.01 355.88,73.61 355.95,70.29 356.02,79.32 356.09,71.02 356.17,80.48 356.24,72.98 356.31,87.09 356.38,69.71 356.45,90.45 356.52,71.63 356.59,93.11 356.66,74.5 356.74,97.23 356.81,73.82 356.88,98.98 356.95,73.52 357.02,100.46 357.09,71.2 357.16,103.38 357.23,68.14 357.31,102.11 357.38,69.24 357.45,103.31 357.52,71.99 357.59,100.68 357.66,74.49 357.73,100.31 357.8,67.74 357.88,97.4 357.95,71.17 358.02,97.13 358.09,69.77 358.16,92.91 358.23,70.52 358.3,92.27 358.37,69.34 358.45,87.73 358.52,75.56 358.59,82.94 358.66,74.35 358.73,79.29 358.8,72.35 358.87,76.02 358.94,71.67 359.02,73.33 359.09,72.09 359.16,68.49 359.23,73.49 359.3,62.53 359.37,71 359.44,60.29 359.51,67.12 359.59,56.65 359.66,75.6 359.73,52.93 359.8,74.47 359.87,50.32 359.94,67.3 360.01,47.08 360.08,72.7 360.16,47.81 360.23,71.32 360.3,44.21 360.37,67.38 360.44,43.8 360.51,67.73 360.58,44.49 360.65,75.27 360.72,45.55 360.8,74.84 360.87,47.67 360.94,71.87 361.01,49.92 361.08,67.74 361.15,52.2 361.22,75.14 361.29,57.96 361.36,74.48 361.43,62.34 361.5,75.97 361.57,66.98 361.65,74.78 361.72,72.17 361.79,69.85 361.86,76.74 361.93,70.51 362,81.69 362.07,68.8 362.14,87.24 362.21,73.4 362.28,92.43 362.35,68.79 362.42,93.26 362.5,73.72 362.57,98.85 362.64,71.07 362.71,100.91 362.78,75.11 362.85,100.65 362.92,69.25 362.99,102.68 363.06,69.38 363.13,100.87 363.2,70.21 363.28,101.35 363.35,72.76 363.42,99.97 363.49,73.55 363.56,98.13 363.63,76.28 363.7,96.76 363.77,70.92 363.84,94.35 363.91,68.96 363.98,90.28 364.06,70.96 364.13,89.73 364.2,69.78 364.27,83.38 364.34,69.88 364.41,83.64 364.48,76.01 364.55,78.11 364.62,74.17 364.69,73.69 364.77,71.45 364.84,71.28 364.91,65.8 364.98,65.7 365.05,71.02 365.12,63.63 365.19,65.55 365.26,61.51 365.33,71.38 365.4,59.79 365.47,69.51 365.55,57.22 365.62,69.85 365.69,53.13 365.76,75.39 365.83,52.17 365.9,65.41 365.97,48.52 366.04,71.37 366.11,50.3 366.18,72.3 366.25,48.8 366.33,73.84 366.4,47.39 366.47,77.49 366.54,50.78 366.61,72.8 366.68,51.03 366.75,76.56 366.82,51.69 366.9,69.52 366.97,56.82 367.04,65.97 367.11,58.19 367.18,73.32 367.25,60.48 367.32,75.71 367.39,64.13 367.46,77 367.54,66.68 367.61,66.35 367.68,68.54 367.75,76.01 367.82,76 367.89,66.7 367.96,78.78 368.03,75.55 368.11,82.28 368.18,69.39 368.25,85.09 368.32,66.6 368.39,88.03 368.46,72.65 368.53,88.53 368.6,66.79 368.67,90.88 368.75,71.33 368.82,90.07 368.89,73.67 368.96,91.76 369.03,75.56 369.1,92.99 369.17,71.47 369.24,91.87 369.31,68.2 369.38,91.54 369.45,74.53 369.52,88.36 369.59,72.32 369.66,87.24 369.73,70.18 369.8,84.88 369.87,72.34 369.94,81.35 370.01,65.17 370.08,80.97 370.15,73.62 370.22,78.85 370.29,66.04 370.36,73.95 370.43,65.69 370.5,69.97 370.57,69.26 370.64,66.89 370.71,71.56 370.78,63.54 370.85,67.53 370.92,62.9 370.99,69.39 371.06,59.44 371.13,71.82 371.2,56.31 371.27,76.64 371.34,55.04 371.42,66.53 371.49,52.12 371.56,66.12 371.63,51.21 371.7,65.06 371.77,49.51 371.84,66.27 371.91,49.62 371.98,68.86 372.05,49.42 372.12,67.48 372.19,48.46 372.26,77.25 372.33,50.25 372.4,71.31 372.48,52.81 372.55,78.59 372.62,51.25 372.69,65.86 372.76,56.84 372.83,66.53 372.91,56.69 372.98,75.01 373.05,60.33 373.12,65.8 373.19,62.78 373.26,69.46 373.33,67.41 373.41,71.26 373.48,71.46 373.55,68.44 373.62,73.42 373.69,73.04 373.76,77.69 373.84,72.99 373.91,80.55 373.98,69.35 374.05,84.32 374.12,66.03 374.19,86.75 374.27,64.69 374.34,90.19 374.41,65.33 374.48,91.65 374.55,74.96 374.62,93.98 374.69,75.95 374.77,93.83 374.84,69.29 374.91,94.5 374.98,76.82 375.05,95.49 375.12,64.66 375.2,94.67 375.27,75.35 375.34,94.19 375.41,66.16 375.48,91.99 375.55,64.58 375.62,92.2 375.69,74.56 375.77,87.52 375.84,71.15 375.91,83.56 375.98,78.04 376.05,81.27 376.12,67.92 376.19,77.74 376.27,72.67 376.34,74.54 376.41,72.58 376.48,68.65 376.55,65.52 376.62,67.35 376.69,74.61 376.77,63.42 376.84,72.43 376.91,60.4 376.98,66.22 377.05,56.02 377.12,63.95 377.19,53.37 377.26,69.08 377.34,53.12 377.41,78.14 377.48,52.12 377.55,68.49 377.62,48.92 377.69,68.36 377.76,50.29 377.84,71.15 377.91,48.33 377.98,65.37 378.05,49.99 378.12,76.08 378.19,50.79 378.26,74.32 378.33,51.53 378.4,71.43 378.48,54.8 378.55,69.85 378.62,54.29 378.69,74.15 378.76,58.08 378.83,71.74 378.9,61.94 378.97,70.35 379.04,61.84 379.12,76.84 379.19,66.93 379.26,75.91 379.33,69.26 379.4,78.4 379.47,71.35 379.54,69.02 379.61,74.42 379.68,70.77 379.76,77.28 379.83,66.97 379.9,79.31 379.97,70.1 380.04,82.32 380.11,70.92 380.18,86.43 380.25,63.9 380.32,86.1 380.4,75.67 380.47,88.33 380.54,69.12 380.61,89.8 380.68,65.7 380.75,89.72 380.82,79.07 380.89,91.29 380.96,73.42 381.04,92.52 381.11,78.54 381.18,93.77 381.25,68.81 381.32,91.66 381.39,64.97 381.46,90.31 381.54,64.38 381.61,88.74 381.68,72.68 381.75,85.67 381.82,70.23 381.89,86.58 381.97,74.19 382.04,83.45 382.11,76.84 382.18,80.05 382.25,75.08 382.32,78.27 382.4,74.35 382.47,75.72 382.54,65.59 382.61,72.65 382.68,76.13 382.75,68.17 382.83,73.37 382.9,65.52 382.97,69.38 383.04,63.22 383.11,72.65 383.18,60.39 383.26,76.35 383.33,59.05 383.4,65.45 383.47,58.61 383.54,65.96 383.61,54.92 383.69,79.31 383.76,52.91 383.83,65.27 383.9,54.46 383.97,72.21 384.04,53.32 384.12,79.7 384.19,54.5 384.26,63.84 384.33,52.7 384.4,63.31 384.47,52.95 384.54,77.97 384.61,55.59 384.68,69.89 384.75,57.71 384.82,73.12 384.89,57.92 384.96,74.96 385.03,62.34 385.1,71.01 385.17,63.17 385.24,72.97 385.31,67.38 385.38,75.65 385.45,69.26 385.52,73.91 385.59,73.46 385.66,64.39 385.73,77.72 385.8,63.34 385.87,78.88 385.95,69.68 386.02,81.71 386.09,74.24 386.16,82.78 386.23,67.2 386.3,84.79 386.37,71.91 386.44,88.89 386.51,76.85 386.58,87.72 386.65,65.01 386.72,90.03 386.79,75.7 386.86,90.71 386.93,64.03 387,91.05 387.07,68.5 387.14,88.7 387.21,74.26 387.29,88.34 387.36,67.48 387.43,89.36 387.5,66.9 387.57,87.56 387.64,69.8 387.71,87.93 387.78,65.92 387.85,82.17 387.93,67.75 388,82.25 388.07,65.37 388.14,79.03 388.21,69.89 388.28,77.47 388.35,74.1 388.42,73.11 388.49,65.54 388.57,69.79 388.64,73.27 388.71,68.03 388.78,64.44 388.85,65.47 388.92,69.3 388.99,63.79 389.06,73.6 389.14,62.16 389.21,71.2 389.28,57.81 389.35,73.58 389.42,54.49 389.49,79.3 389.56,54.55 389.63,74.76 389.7,56.8 389.78,73.76 389.85,52.86 389.92,67.88 389.99,51.89 390.06,70.84 390.13,51.75 390.2,72.5 390.27,51.89 390.34,70.65 390.41,51.49 390.48,66.18 390.55,53.71 390.62,77.28 390.69,55.49 390.76,79.18 390.84,56.45 390.91,67.93 390.98,58.92 391.05,76.8 391.12,58.95 391.19,64.65 391.26,61.66 391.33,66.61 391.4,66.55 391.47,72.43 391.54,70.21 391.61,67.57 391.68,70.15 391.75,76.36 391.82,73.5 391.89,72.66 391.96,78.2 392.03,76.78 392.1,78.72 392.17,67.47 392.24,82.58 392.31,80.03 392.38,82.92 392.45,72.19 392.53,86.38 392.6,78.36 392.67,87.01 392.74,70.86 392.81,89.77 392.88,76.09 392.95,88.11 393.02,74.71 393.09,89.23 393.16,68.73 393.23,91.01 393.3,64.12 393.37,91.91 393.44,71.39 393.51,88.21 393.58,64.62 393.65,88.96 393.72,79.96 393.79,86.12 393.86,79.74 393.93,85.38 394,70.31 394.07,82.45 394.14,72.14 394.21,79.15 394.28,72.46 394.35,74.39 394.42,79.85 394.49,72.63 394.56,63.19 394.63,70.07 394.7,72.51 394.77,68.08 394.84,79.94 394.91,63.91 394.98,70.97 395.05,61.93 395.12,70.38 395.19,60.51 395.26,63.87 395.33,58.05 395.4,79.3 395.47,57.66 395.54,63.13 395.61,57.27 395.68,66.21 395.75,53.9 395.82,76.67 395.89,56.01 395.96,69.53 396.03,55.86 396.1,63.27 396.17,57.99 396.24,76.51 396.31,60.47 396.38,66.94 396.46,60.37 396.53,75.33 396.6,63.98 396.67,76.41 396.74,65.73 396.81,66.03 396.88,69.22 396.95,72.33 397.02,72.38 397.09,74.53 397.16,74.41 397.23,63.77 397.3,76.71 397.37,78.16 397.44,78.28 397.51,77.89 397.59,82.7 397.66,71.87 397.73,84.2 397.8,65.54 397.87,85.74 397.94,66.09 398.01,87.78 398.08,64.05 398.15,89.18 398.22,72.98 398.29,90.56 398.36,79.82 398.43,90.61 398.5,67.03 398.57,90.07 398.64,76.98 398.71,89.51 398.78,75.87 398.85,90.23 398.92,65.11 398.99,90.65 399.06,78.55 399.13,87.68 399.2,76.08 399.27,84.65 399.34,69.17 399.41,85.71 399.48,78.85 399.55,84.94 399.62,67.31 399.69,81.59 399.76,66.21 399.83,80.1 399.9,75.56 399.97,76.72 400.04,74.38 400.11,76.33 400.18,78.87 400.25,74.62 400.32,74.95 400.39,71.31 400.46,79.14 400.53,70.06 400.6,67.21 400.67,67.88 400.74,70.71 400.81,65.05 400.88,67.85 400.95,62.61 401.02,76.77 401.09,60.77 401.16,73.32 401.23,59.34 401.3,65.13 401.37,57.14 401.44,73.71 401.52,57.53 401.59,67.95 401.66,54.97 401.73,72.27 401.8,55.19 401.87,64.83 401.94,53.11 402.01,64.56 402.08,54.79 402.15,76.07 402.22,54.2 402.29,77.61 402.36,54.27 402.43,63.14 402.5,53.13 402.57,67.08 402.64,55.22 402.71,65.67 402.78,57.96 402.85,65.19 402.92,60.65 402.99,70.18 403.06,61.14 403.13,76.49 403.2,64.93 403.27,63.79 403.34,68.03 403.41,63.86 403.48,71.79 403.55,75.88 403.62,74.79 403.69,76.04 403.76,77.74 403.83,78.42 403.9,83.07 403.97,63.47 404.04,82.25 404.11,76.24 404.18,85.88 404.25,71.13 404.32,87.62 404.39,78.75 404.46,87.77 404.53,67.57 404.6,87.72 404.68,74.12 404.75,87.74 404.82,77.83 404.89,89.9 404.96,65.48 405.03,87.7 405.1,79.66 405.17,86.43 405.24,65.64 405.31,86.21 405.38,69.5 405.45,85.53 405.53,71.79 405.6,82.85 405.67,66.4 405.74,79.68 405.81,72.13 405.88,79.05 405.95,64.54 406.02,77.08 406.09,74.24 406.16,75.1 406.23,67.18 406.3,74.29 406.37,78.21 406.45,71.68 406.52,70.3 406.59,68.25 406.66,69.55 406.73,68.17 406.8,76.29 406.87,66.25 406.94,63.99 407.01,64.3 407.08,79.5 407.15,62.54 407.22,76.99 407.3,61.65 407.37,70.82 407.44,58.36 407.51,76.62 407.58,56.85 407.65,68.38 407.72,55.3 407.79,64.93 407.86,55.63 407.93,75.64 408,54.12 408.07,71.39 408.15,53.07 408.22,68.99 408.29,52.93 408.36,78.72 408.43,54.16 408.5,79.48 408.57,53.96 408.64,70.8 408.71,57.16 408.78,62.9 408.86,58.09 408.93,70.8 409,60.11 409.07,62.85 409.14,61.61 409.21,73.6 409.28,64.6 409.35,79.53 409.42,67.29 409.5,75.38 409.57,71.01 409.64,71.64 409.71,72.07 409.78,78.96 409.85,77.99 409.92,66.15 409.99,79.87 410.06,68.36 410.14,82.09 410.21,76.47 410.28,83.19 410.35,78.75 410.42,85.41 410.49,77.92 410.56,89.89 410.63,78.34 410.7,90.57 410.78,62.81 410.85,91.47 410.92,78.7 410.99,91.54 411.06,78.99 411.13,90.45 411.2,68.69 411.27,90.65 411.34,67.29 411.41,89.86 411.48,77.3 411.55,88.54 411.62,74.27 411.69,87.22 411.76,66.34 411.83,86.3 411.9,66.05 411.97,81.26 412.04,62.89 412.11,79.99 412.18,69.71 412.25,76.69 412.32,78.29 412.39,74.34 412.46,68.92 412.53,70.74 412.6,69.76 412.67,65 412.74,77.81 412.81,64.02 412.88,75.83 412.95,58.21 413.02,69.87 413.09,59.87 413.16,64.22 413.23,56.33 413.3,76.83 413.37,55.35 413.44,67.51 413.51,55.39 413.58,66.58 413.65,53.26 413.72,79.37 413.79,52.48 413.86,73.35 413.93,55.45 414,68.52 414.08,55.11 414.15,68.21 414.22,55.35 414.29,76.01 414.36,58.35 414.43,77.35 414.5,59.17 414.57,69.16 414.64,59.8 414.71,69.72 414.78,62.92 414.85,76.04 414.92,65.25 414.99,65.41 415.06,68.46 415.13,70.24 415.2,71.07 415.27,65.67 415.34,73.35 415.41,73.53 415.48,76 415.55,79.19 415.62,77.69 415.69,71.85 415.77,81.55 415.84,69.13 415.91,82.82 415.98,77.09 416.05,84.68 416.12,78.57 416.19,86.06 416.26,79.01 416.33,88.92 416.4,73.74 416.47,88.34 416.54,63.79 416.61,89.54 416.68,77.52 416.75,89.39 416.82,70.52 416.89,88.57 416.96,69.94 417.03,89.37 417.1,72.66 417.17,88.12 417.24,63.27 417.31,86.83 417.38,73.89 417.45,84.31 417.52,79.98 417.59,84.58 417.66,64.12 417.73,81.54 417.8,78.5 417.87,79.19 417.94,78.52 418.01,77.76 418.08,72.71 418.15,75.43 418.22,72.76 418.29,72.71 418.36,77.34 418.43,70.5 418.5,63.13 418.57,68.5 418.64,70.09 418.71,64.73 418.78,79.9 418.86,64.08 418.93,67.28 419,59.87 419.07,70.26 419.14,59.24 419.21,65.3 419.28,58.54 419.35,70.25 419.42,58.09 419.49,68.95 419.56,54.46 419.63,73.76 419.7,56.08 419.77,67.98 419.84,53.2 419.91,71.64 419.98,55.46 420.05,77.96 420.12,52.87 420.19,71.2 420.26,55.08 420.33,71.92 420.4,56.43 420.47,71.73 420.54,59.13 420.61,69.3 420.68,59.21 420.75,62.78 420.82,62 420.89,75.86 420.96,63.44 421.03,64.27 421.1,64.01 421.17,70.46 421.24,68.34 421.31,64.51 421.38,70.6 421.45,67.96 421.52,73.03 421.59,75.19 421.67,74.99 421.74,75.41 421.81,76.92 421.88,69.03 421.95,79.82 422.02,70.32 422.09,82.17 422.16,70.15 422.23,85.25 422.3,71.64 422.37,84.34 422.44,65.38 422.51,87.02 422.58,75.86 422.65,88.11 422.72,75.96 422.79,87 422.86,66.23 422.93,85.82 423,67.1 423.07,88.02 423.15,70.23 423.22,86.13 423.29,71.8 423.36,86.1 423.43,73.38 423.5,84.24 423.57,73.96 423.65,83.62 423.72,79.73 423.79,80.81 423.86,71.43 423.93,77.53 424,67.45 424.07,76.34 424.14,79.23 424.22,74.67 424.29,71.7 424.36,74.54 424.43,68.88 424.5,70.09 424.57,70.91 424.64,68.39 424.72,75.3 424.79,65.23 424.86,65.71 424.93,62.35 425,65.6 425.07,60.49 425.14,78.98 425.21,57.54 425.29,68.92 425.36,57.05 425.43,74.17 425.5,57.61 425.57,69.97 425.64,54.57 425.71,66.27 425.78,54.67 425.86,80.4 425.93,54.21 426,80.4 426.07,53.53 426.14,76.73 426.21,53.47 426.28,70.91 426.36,55.19 426.43,67.39 426.5,56.83 426.57,72.24 426.64,59.7 426.71,69.75 426.79,61.76 426.86,79.64 426.93,62.47 427,68.44 427.07,67.11 427.14,66.42 427.21,69.28 427.29,76.25 427.36,74.5 427.43,71.84 427.5,74.74 427.57,79.52 427.64,78.03 427.71,71.93 427.79,81.2 427.86,75.66 427.93,82.2 428,64.85 428.07,84.41 428.14,79.76 428.21,83.26 428.29,65.43 428.36,84.79 428.43,69.33 428.5,84.71 428.57,71.96 428.64,85.43 428.71,80.43 428.78,84.07 428.86,76.25 428.93,82.07 429,67.87 429.07,80.34 429.14,69.6 429.21,81.22 429.28,75.89 429.35,79.86 429.42,66.22 429.49,78.19 429.57,74.52 429.64,75.5 429.71,72.25 429.78,72.72 429.85,78.93 429.92,70.15 429.99,78.97 430.06,67.57 430.13,75.93 430.2,65.93 430.28,65.05 430.35,65.41 430.42,79.61 430.49,61.41 430.56,63.6 430.63,60.11 430.7,67.07 430.77,57.47 430.84,64.73 430.91,56.57 430.99,72.99 431.06,53.48 431.13,79.53 431.2,55.27 431.27,74.33 431.34,54.44 431.41,69.24 431.48,53.27 431.55,63.29 431.62,54.63 431.69,71.93 431.76,53.7 431.83,72.76 431.9,54.28 431.97,74.94 432.04,55.52 432.12,73.39 432.19,57.78 432.26,76.03 432.33,57.78 432.4,76.96 432.47,62.43 432.54,75.95 432.61,62.56 432.68,68.82 432.75,65.53 432.82,80.01 432.89,68.41 432.96,71.39 433.03,72.4 433.1,74.18 433.17,74.38 433.24,74.22 433.31,75.8 433.38,63.28 433.45,77.38 433.52,66.99 433.59,81.11 433.66,75.58 433.73,83.25 433.8,65.76 433.87,83.07 433.94,76.73 434.01,82.35 434.08,68.47 434.15,84.96 434.23,67.21 434.3,87.59 434.37,64.93 434.44,87.21 434.51,67.69 434.58,86.92 434.65,74.56 434.72,86.8 434.79,78.46 434.87,85.29 434.94,70.91 435.01,84.9 435.08,78.22 435.15,82.51 435.22,72.53 435.3,81.04 435.37,62.73 435.44,77.11 435.51,77.69 435.58,78.99 435.66,65.56 435.73,72.86 435.8,71.43 435.87,71.79 435.94,65.37 436.01,70.37 436.09,65.6 436.16,67.85 436.23,71.56 436.3,66.33 436.37,63.52 436.44,63.99 436.52,80.02 436.59,62.48 436.66,66.04 436.73,58.88 436.8,73.21 436.87,59.48 436.95,79.69 437.02,61.28 437.09,73.01 437.16,56.46 437.23,78.61 437.3,58.84 437.38,72.79 437.45,56.72 437.52,68.98 437.59,59.96 437.66,64.1 437.73,56.9 437.8,68.81 437.87,60.16 437.94,74.8 438.01,60.74 438.08,77.5 438.15,58.92 438.22,79.61 438.29,63.26 438.36,77.28 438.43,63.81 438.5,75.69 438.57,66.75 438.64,75.16 438.71,68.94 438.78,80.04 438.85,70.14 438.92,71.45 438.99,73.68 439.06,70.99 439.13,74.7 439.2,76.86 439.27,76.56 439.34,64.12 439.41,79.33 439.48,73.88 439.55,79.73 439.62,76.72 439.7,81.87 439.77,73.23 439.84,82.73 439.91,75.95 439.98,83.56 440.05,69.83 440.12,85.18 440.19,74.76 440.26,85.95 440.33,71.3 440.4,84.81 440.47,63.45 440.54,86.66 440.61,66.52 440.68,84.91 440.75,66.38 440.82,84.66 440.89,72.6 440.96,85.74 441.03,73.75 441.1,83.39 441.17,66.13 441.24,82.84 441.31,68.23 441.38,79.17 441.45,70.99 441.52,80.09 441.59,70.55 441.67,77.82 441.74,78.26 441.81,75.57 441.88,69.04 441.95,73.26 442.02,78.02 442.09,70.06 442.16,68.41 442.23,68.76 442.3,80.2 442.37,66.34 442.44,74.87 442.51,64.13 442.58,69.1 442.65,64.24 442.72,71.48 442.79,59.63 442.86,63.25 442.93,58.98 443,72.62 443.07,59.29 443.14,63.36 443.21,58.6 443.28,70.25 443.35,58.24 443.43,72.95 443.5,56.98 443.57,73.59 443.64,58.83 443.71,67.75 443.78,57 443.85,78.34 443.92,58.91 443.99,67.61 444.06,59.46 444.13,69.25 444.21,61.28 444.28,66.38 444.35,62.23 444.42,75.78 444.49,63.95 444.56,79.12 444.63,66.35 444.7,70 444.77,67.37 444.84,80.06 444.92,71.42 444.99,68.99 445.06,72.27 445.13,62.94 445.2,73.62 445.27,64.52 445.34,74.15 445.41,63.45 445.48,77.24 445.55,76.27 445.63,78.66 445.7,73.09 445.77,80.46 445.84,70.37 445.91,82.96 445.98,67.96 446.05,81.35 446.12,73.25 446.19,83.14 446.26,67.52 446.34,82.61 446.41,68.87 446.48,84.16 446.55,78.82" fill="none" stroke="#0000f0" stroke-width="1.25" clip-path="url(#cib)"/>
<line x1="320.8" y1="6.4" x2="320.8" y2="114.8" stroke="#1e1e1e" stroke-width="1.3"/>
<line x1="320.8" y1="114.8" x2="443.6" y2="114.8" stroke="#1e1e1e" stroke-width="1.3"/>
<line x1="320.8" y1="13.3" x2="327.3" y2="13.3" stroke="#1e1e1e" stroke-width="1.3"/>
<line x1="320.8" y1="42.4" x2="324.8" y2="42.4" stroke="#1e1e1e" stroke-width="1.3"/>
<line x1="320.8" y1="71.5" x2="327.8" y2="71.5" stroke="#1e1e1e" stroke-width="1.3"/>
<line x1="320.8" y1="100.6" x2="324.8" y2="100.6" stroke="#1e1e1e" stroke-width="1.3"/>
<line x1="352.1" y1="114.8" x2="352.1" y2="110.8" stroke="#1e1e1e" stroke-width="1.3"/>
<line x1="352.1" y1="6.4" x2="352.1" y2="10.4" stroke="#1e1e1e" stroke-width="1.3"/>
<line x1="383.4" y1="114.8" x2="383.4" y2="107.8" stroke="#1e1e1e" stroke-width="1.3"/>
<line x1="383.4" y1="6.4" x2="383.4" y2="13.4" stroke="#1e1e1e" stroke-width="1.3"/>
<line x1="414.7" y1="114.8" x2="414.7" y2="110.8" stroke="#1e1e1e" stroke-width="1.3"/>
<line x1="414.7" y1="6.4" x2="414.7" y2="10.4" stroke="#1e1e1e" stroke-width="1.3"/>
<rect x="373" y="6.4" width="70.6" height="23.5" fill="#fff" stroke="#1e1e1e" stroke-width="1.3"/>
<rect x="530.0" y="6.4" width="123.70000000000005" height="109.89999999999999" fill="#fff"/>
<polyline points="531,48.07 531.05,52.01 531.1,50.68 531.15,51.2 531.2,49.75 531.25,48.1 531.3,47.96 531.35,49.01 531.4,45.45 531.45,43.15 531.5,41.56 531.55,41.88 531.6,39.68 531.65,43.86 531.7,36.73 531.75,36.03 531.8,36.82 531.85,38.12 531.9,35.83 531.95,34.18 532,34.39 532.05,35.45 532.1,38.53 532.15,35.35 532.2,38.11 532.25,38.29 532.3,41.6 532.35,43.35 532.4,41.36 532.45,50.9 532.5,48.38 532.55,48.86 532.6,49.92 532.65,52.93 532.7,55.12 532.75,57.68 532.8,57.72 532.85,59.66 532.9,56.19 532.95,58.35 533,57.99 533.05,60.24 533.1,60.54 533.15,56.23 533.2,58.19 533.25,59.18 533.3,58.61 533.35,53.47 533.4,55.63 533.45,53.89 533.5,50.98 533.55,54.36 533.6,46.76 533.65,47.01 533.7,47.06 533.75,45.28 533.8,43.16 533.85,45.06 533.9,44.11 533.95,42.1 534,41.48 534.05,38.73 534.1,36.05 534.15,42.47 534.2,36.08 534.25,42.55 534.3,38.12 534.36,39.31 534.41,39.15 534.46,42.21 534.51,40.24 534.56,46.04 534.62,44.64 534.67,45.24 534.72,45.15 534.77,48.31 534.82,49.24 534.88,54.55 534.93,54.12 534.98,50.59 535.03,58.17 535.08,51.68 535.14,60.73 535.19,54.98 535.24,59.71 535.29,62.14 535.34,61.14 535.4,59.43 535.45,64.37 535.5,58.44 535.55,58.99 535.6,64.43 535.65,59.51 535.7,61.16 535.75,61.57 535.8,58.9 535.85,58.73 535.9,57.4 535.95,56.52 536,57.37 536.05,55.77 536.1,53.48 536.15,53.66 536.2,49.8 536.25,48.52 536.3,47.33 536.35,50.33 536.4,51.59 536.45,48.26 536.5,44.04 536.55,47.11 536.6,49.46 536.65,49.76 536.7,50.25 536.75,53.18 536.8,54.42 536.85,51.48 536.9,56.83 536.95,56.47 537,60.59 537.05,64.93 537.1,68.57 537.15,68.88 537.2,69.14 537.25,72.19 537.3,76.75 537.35,76.52 537.4,81.18 537.45,85.31 537.5,88.68 537.55,88.92 537.6,92.83 537.65,97.28 537.7,97.49 537.75,95.61 537.8,101.47 537.85,103.34 537.9,103.59 537.95,105.89 538,103.99 538.05,110.33 538.1,109.32 538.15,107.78 538.2,109.47 538.25,109.21 538.3,107.05 538.35,103.17 538.4,102.43 538.45,111.69 538.51,104.81 538.56,105.77 538.61,106.71 538.66,103.95 538.71,106.07 538.76,100.7 538.81,102.56 538.86,96.01 538.91,100.28 538.96,98.81 539.01,96.69 539.07,95.01 539.12,93.34 539.17,92.86 539.22,91.34 539.27,85.77 539.32,87.97 539.37,82.12 539.42,82.48 539.47,79.76 539.52,79.33 539.57,75.79 539.63,75.35 539.68,71.68 539.73,68.81 539.78,70.98 539.83,68.13 539.88,66.18 539.93,65.26 539.98,59.46 540.03,61.7 540.08,56.09 540.13,57.35 540.19,54.69 540.24,54.11 540.29,53.55 540.34,50.86 540.39,47.73 540.44,50.26 540.49,49.67 540.54,47.7 540.59,47.51 540.64,41.12 540.69,44.09 540.75,43.13 540.8,38.96 540.85,42.71 540.9,42.22 540.95,39.04 541,40.32 541.05,42.22 541.1,43.39 541.15,43.82 541.2,40.51 541.25,40.97 541.3,42.6 541.35,44.09 541.4,43.69 541.45,45.2 541.5,47.81 541.55,48.65 541.6,48.51 541.65,46.97 541.7,49.36 541.75,52.61 541.8,54.42 541.85,56.04 541.9,53.08 541.95,55.6 542,55.47 542.05,53.4 542.1,58.51 542.15,58.58 542.2,66.34 542.25,65.95 542.3,65.16 542.35,68.02 542.4,70.14 542.45,74.22 542.5,73.66 542.55,76.52 542.6,75.77 542.65,78.69 542.7,80.22 542.75,80.39 542.8,79.74 542.85,82.95 542.9,80.99 542.95,85.59 543,83.07 543.05,83.07 543.1,88.94 543.15,85 543.2,86.73 543.25,84.76 543.3,85.89 543.35,86.93 543.4,85.86 543.45,90.41 543.5,86.57 543.55,85.47 543.6,90.1 543.65,89.12 543.7,82.81 543.75,86.01 543.8,88.76 543.85,84.78 543.9,85.25 543.95,84.75 544,80.08 544.05,82.12 544.1,84.67 544.15,85.21 544.2,81.29 544.25,80.3 544.3,80.65 544.35,78.84 544.4,78.45 544.45,74.56 544.5,75.2 544.55,74.96 544.6,73.9 544.65,68.32 544.7,71.78 544.75,69.04 544.8,67.77 544.85,62.55 544.9,64.78 544.95,60.13 545,56.84 545.05,60.66 545.1,59.04 545.15,57.74 545.2,56.56 545.25,54.8 545.3,55.6 545.35,53.63 545.4,53.9 545.45,54.35 545.5,49.52 545.55,48.28 545.6,49.21 545.65,42.43 545.7,42.33 545.75,42.32 545.8,37.58 545.85,41.55 545.9,41.74 545.95,35.08 546,35.04 546.05,37.59 546.1,37.67 546.15,30.89 546.2,34.58 546.25,32.43 546.3,28.56 546.35,30.89 546.4,30.14 546.45,31.11 546.5,30.66 546.55,29.78 546.6,29.89 546.65,29.74 546.7,31.04 546.75,31.99 546.8,32.12 546.85,28.65 546.9,29.17 546.95,29.84 547.01,34.53 547.06,33.25 547.11,31.44 547.16,31.43 547.21,32.58 547.26,35.58 547.31,34.32 547.36,37.58 547.41,41.43 547.46,39.42 547.52,42.9 547.57,39.46 547.62,44.57 547.67,45.84 547.72,44.84 547.77,50.92 547.82,49.64 547.87,49.79 547.92,52.11 547.97,56.13 548.03,53.02 548.08,51.07 548.13,56.91 548.18,50.85 548.23,60.78 548.28,51.39 548.33,66.27 548.38,50.67 548.43,68.6 548.48,50.87 548.54,70.88 548.59,51.29 548.64,72.49 548.69,51.47 548.74,76.89 548.79,50.93 548.84,79.78 548.89,51.92 548.94,78.3 548.99,50.77 549.05,81.25 549.1,52.29 549.15,76.71 549.2,52.67 549.25,76.53 549.3,50.1 549.35,78.12 549.4,50.15 549.45,82.9 549.5,48.77 549.55,78.28 549.6,53.03 549.65,80.75 549.7,53.63 549.75,80.96 549.8,53.36 549.85,74.62 549.9,51.84 549.95,76.66 550,52.54 550.05,75.64 550.1,48.05 550.15,71.8 550.2,50.41 550.25,71.74 550.3,50.6 550.35,67.85 550.4,52.38 550.45,63.13 550.5,47.54 550.55,62.57 550.6,47.44 550.65,58.99 550.7,47.52 550.75,58.17 550.8,48.04 550.85,60.24 550.9,47.59 550.95,58.06 551,51.95 551.05,52.93 551.1,48.98 551.15,50.08 551.2,47.12 551.25,48.33 551.3,55.2 551.35,46.61 551.4,48.45 551.45,42.6 551.5,48.71 551.55,40.67 551.6,46.63 551.65,41.66 551.7,54.14 551.75,41.83 551.8,51.35 551.85,41.69 551.9,46.91 551.95,35.74 552,48.15 552.05,39.04 552.1,48.27 552.15,36.54 552.2,49.55 552.25,35.18 552.3,47.84 552.35,41.66 552.4,54.34 552.45,38.23 552.5,52.94 552.55,40.53 552.6,54.31 552.65,41.39 552.7,54.45 552.75,36.82 552.8,45.57 552.85,41.06 552.9,53.37 552.95,42.33 553,53.25 553.05,46.56 553.1,48.36 553.15,45.77 553.2,46.03 553.25,47.92 553.3,50.98 553.35,49.09 553.4,55.09 553.45,47.73 553.5,54.8 553.55,52.54 553.6,49.27 553.65,53.22 553.7,47.09 553.75,53.46 553.8,53.5 553.85,56.33 553.9,54.28 553.95,56.13 554,48.47 554.05,60.7 554.1,50.82 554.15,60.3 554.2,49.04 554.25,65.67 554.3,47.68 554.35,65.3 554.4,47.73 554.45,71.9 554.5,44.07 554.55,71.87 554.6,49.42 554.65,65.93 554.7,46.05 554.75,67.54 554.8,56.94 554.85,67.87 554.9,53.64 554.95,75.24 555,53.47 555.05,72.47 555.1,54.58 555.15,68.68 555.2,48.42 555.25,71.04 555.3,49.14 555.35,70.4 555.4,43.43 555.45,73.82 555.5,53.96 555.55,71.2 555.6,50.22 555.65,67.46 555.7,48.94 555.75,70.91 555.81,56.83 555.86,68.54 555.91,54.8 555.96,66.31 556.01,46.73 556.06,62.34 556.11,55.33 556.16,64.24 556.21,48.13 556.26,65.42 556.31,56.07 556.36,62.67 556.41,54.6 556.46,57.82 556.51,58.44 556.56,56.28 556.61,54.02 556.66,49.63 556.71,49.09 556.76,47.29 556.81,52.19 556.86,49.85 556.91,57.64 556.96,44.76 557.02,47 557.07,46.68 557.12,42.51 557.17,45.16 557.22,46.54 557.27,44.28 557.32,55.62 557.37,41.22 557.42,58.49 557.47,38.55 557.52,57.2 557.57,37.21 557.62,51.41 557.67,35.1 557.72,50.53 557.77,38.58 557.82,47.38 557.87,34.16 557.92,48.74 557.97,35.97 558.02,52.13 558.07,32.39 558.12,56.43 558.18,32.83 558.23,45.36 558.28,36.25 558.33,56.1 558.38,34.22 558.43,59.9 558.48,34.93 558.53,43.46 558.58,37.15 558.63,52.93 558.68,34.53 558.73,44.82 558.78,37.07 558.83,45.77 558.88,37.97 558.93,55.05 558.98,39 559.03,58.44 559.08,41.48 559.13,44.17 559.18,41 559.23,49.14 559.28,46.42 559.33,53.9 559.39,45.5 559.44,45.46 559.49,47.2 559.54,43.74 559.59,49.64 559.64,53.63 559.69,51.52 559.74,46.19 559.79,54.92 559.84,45.61 559.89,56.03 559.94,57.71 559.99,59 560.04,56.48 560.09,65.94 560.14,50.59 560.19,63.33 560.24,58.3 560.29,64.11 560.34,60.13 560.39,62.19 560.44,51.43 560.49,67.04 560.54,47.93 560.6,66.53 560.65,47.65 560.7,66.63 560.75,46.8 560.8,69.22 560.85,53.07 560.9,68.92 560.95,59.4 561,71.21 561.05,46.08 561.1,68.93 561.15,41.48 561.2,69.1 561.25,44.32 561.3,73.81 561.35,42.41 561.4,73.09 561.45,42.66 561.5,68.28 561.55,57.34 561.6,71.35 561.65,43.91 561.7,69.61 561.76,51.13 561.81,66.94 561.86,50.97 561.91,66.05 561.96,43.31 562.01,66.59 562.06,58.38 562.11,68.1 562.16,46.62 562.21,61.72 562.26,41.94 562.31,60.48 562.36,50.56 562.41,58.49 562.46,50.83 562.51,55.5 562.56,56.2 562.61,55.79 562.66,56.94 562.71,53.55 562.76,41.01 562.81,50.11 562.86,52.38 562.91,51.79 562.97,42.16 563.02,52.36 563.07,42.66 563.12,46.7 563.17,50.57 563.22,47.24 563.27,55.16 563.32,43.75 563.37,42.98 563.42,42.52 563.47,48.64 563.52,44.98 563.57,46.04 563.62,39.6 563.67,47.17 563.72,41.38 563.77,47.31 563.82,38.16 563.87,54.22 563.92,37.76 563.97,47.74 564.02,38.04 564.07,50.24 564.13,36.36 564.18,49.54 564.23,41.02 564.28,57.58 564.33,40.93 564.38,51.81 564.43,40.47 564.48,56.8 564.53,37.88 564.58,55.49 564.63,40.12 564.68,49.1 564.73,44.13 564.78,54.57 564.83,48.68 564.88,56.29 564.93,47.58 564.98,48.53 565.03,46.09 565.08,58.32 565.13,48.79 565.18,50.67 565.23,48.81 565.28,44.05 565.34,53.95 565.39,48.09 565.44,52.67 565.49,58.5 565.54,54.16 565.59,50.98 565.64,53.21 565.69,56.8 565.74,58.93 565.79,52.35 565.84,62.79 565.89,56.2 565.94,61.15 565.99,50.47 566.04,62.41 566.09,41.5 566.14,64.49 566.19,46.78 566.24,64.65 566.29,43.19 566.34,64.45 566.39,46.36 566.44,65.46 566.49,44.38 566.55,69.21 566.6,54.47 566.65,68.48 566.7,46.85 566.75,69.29 566.8,56.76 566.85,69.74 566.9,59.91 566.95,71.58 567,46.91 567.05,70.99 567.1,45.89 567.15,70.62 567.2,53.54 567.25,70.26 567.3,57.94 567.35,68.59 567.4,61.07 567.45,68.77 567.5,46.93 567.55,71.48 567.6,60.21 567.65,69.92 567.71,49.68 567.76,67.76 567.81,51.86 567.86,65.55 567.91,54.74 567.96,65.64 568.01,50.91 568.06,62.14 568.11,55.54 568.16,58.21 568.21,43.09 568.26,59.23 568.31,58.51 568.36,56.02 568.41,50.49 568.46,53.75 568.51,43.86 568.56,51.61 568.61,45.59 568.66,48.96 568.71,59.86 568.76,47.4 568.81,47.04 568.86,42.99 568.92,42.63 568.97,40.19 569.02,43.47 569.07,42.85 569.12,49.07 569.17,40.58 569.22,59.83 569.27,37.47 569.32,60.2 569.37,32.02 569.42,51.8 569.47,32.11 569.52,45.8 569.57,31.06 569.62,46.86 569.67,33.11 569.72,55.58 569.77,29.13 569.82,58.99 569.87,29.65 569.92,54.04 569.97,28.77 570.02,44.28 570.08,29.96 570.13,42.96 570.18,28.97 570.23,61.49 570.28,30.64 570.33,53.02 570.38,33.45 570.43,40.78 570.48,29.18 570.53,43.72 570.58,32.87 570.63,60.56 570.68,32.85 570.73,49.5 570.78,33.18 570.83,44 570.88,36.77 570.93,51.71 570.98,40.08 571.03,54.12 571.08,39.34 571.13,53.62 571.18,41.47 571.23,58.91 571.29,41.1 571.34,60.18 571.39,43.44 571.44,57.53 571.49,47.81 571.54,52.85 571.59,46.43 571.64,57.94 571.69,49.69 571.74,50.91 571.79,52.02 571.84,59.35 571.89,54.12 571.94,57.42 571.99,57.64 572.04,43.7 572.09,58.69 572.14,56.68 572.19,55.9 572.24,40.96 572.29,58.8 572.34,47.98 572.39,66.73 572.44,52.12 572.5,61.62 572.55,46.98 572.6,65.63 572.65,48.62 572.7,63.39 572.75,60.69 572.8,66.3 572.85,44.92 572.9,61.82 572.95,52.54 573,69.51 573.05,44.88 573.1,64.56 573.15,44.41 573.2,64.18 573.25,59.6 573.3,68.91 573.35,52.14 573.4,67.55 573.45,52.54 573.5,64.91 573.55,45.71 573.6,61.94 573.66,45.99 573.71,64.5 573.76,60.19 573.81,62.01 573.86,59.27 573.91,60.4 573.96,41.23 574.01,59.74 574.06,48.69 574.11,55.42 574.16,54.44 574.21,54.11 574.26,49.86 574.31,51.88 574.36,54.36 574.41,52.36 574.46,58.4 574.51,50.63 574.56,42.68 574.61,49.42 574.66,56.79 574.71,46.29 574.76,59.64 574.81,45.46 574.87,55.98 574.92,42.71 574.97,53.06 575.02,44.54 575.07,45.23 575.12,39.82 575.17,49.99 575.22,40.82 575.27,45.33 575.32,38.21 575.37,46.64 575.42,39.76 575.47,56.15 575.52,38.35 575.57,50.5 575.62,35.44 575.67,51.42 575.72,38.96 575.77,50.6 575.82,39.45 575.87,48.03 575.92,31.11 575.97,54.61 576.03,35.01 576.08,50.4 576.13,32.26 576.18,44.17 576.23,35.66 576.28,53.25 576.33,34.51 576.38,44.46 576.43,29.37 576.48,40.5 576.53,39.92 576.58,46.36 576.63,38.69 576.68,42.88 576.73,37.88 576.78,47.56 576.83,39.15 576.88,42.42 576.93,39.62 576.98,51.08 577.03,42.68 577.08,57.93 577.13,43.59 577.18,60.59 577.24,47.09 577.29,61.33 577.34,52.82 577.39,60.76 577.44,48.9 577.49,50.41 577.54,48.98 577.59,58.4 577.64,51.32 577.69,51.05 577.74,53.21 577.79,61.91 577.84,55.36 577.89,46.72 577.94,57.96 577.99,57.45 578.04,62.81 578.09,45.78 578.14,55.16 578.19,47.4 578.24,61.22 578.29,57.44 578.34,64.15 578.39,53.6 578.45,64.36 578.5,44.85 578.55,64.98 578.6,54.81 578.65,68.02 578.7,46.98 578.75,69.14 578.8,60.03 578.85,65.38 578.9,43.19 578.95,65.46 579,60.72 579.05,67.61 579.1,50.4 579.15,67.09 579.2,50.86 579.25,63.24 579.3,50.86 579.35,70.03 579.4,54.3 579.45,63.97 579.5,54.18 579.55,60.85 579.61,40.71 579.66,59.74 579.71,55.91 579.76,62.14 579.81,50.06 579.86,56.83 579.91,45.14 579.96,59.99 580.01,56.95 580.06,60.84 580.11,45.34 580.16,59.22 580.21,45.25 580.26,55.04 580.31,53.68 580.36,57.47 580.41,60.48 580.46,51.16 580.51,44.27 580.56,52.55 580.61,57.79 580.66,43.23 580.71,42.22 580.76,50.45 580.82,48.85 580.87,44.64 580.92,58.74 580.97,41.59 581.02,53.61 581.07,39.92 581.12,46.02 581.17,43.34 581.22,61.3 581.27,39.24 581.32,40.87 581.37,42.54 581.42,59.46 581.47,40.97 581.52,51.44 581.57,39.29 581.62,46.39 581.67,35.97 581.72,46.47 581.77,35.68 581.82,55.69 581.87,39.12 581.92,52.79 581.98,34.61 582.03,44.45 582.08,38.97 582.13,40.46 582.18,38.33 582.23,41.56 582.28,36.21 582.33,53.19 582.38,36.99 582.43,50.72 582.48,39.2 582.53,55.37 582.58,42.93 582.63,41.9 582.68,42.62 582.73,57.39 582.78,41.4 582.83,61.84 582.88,44.55 582.93,45.04 582.98,41.74 583.03,41.77 583.08,46.92 583.13,58.08 583.19,45.93 583.24,49.9 583.29,47.9 583.34,52.85 583.39,48.22 583.44,48.26 583.49,53.86 583.54,55.33 583.59,52.4 583.64,55.54 583.69,52.94 583.74,41.26 583.79,58.73 583.84,45.53 583.89,55.52 583.94,41.79 583.99,54.42 584.04,46.06 584.09,58.48 584.14,48.52 584.19,57.4 584.24,57.26 584.29,57.5 584.34,57.96 584.4,58.55 584.45,60.26 584.5,62.86 584.55,51.1 584.6,64.1 584.65,43.58 584.7,62.4 584.75,54.1 584.8,62.43 584.85,57.08 584.9,60.6 584.95,44.42 585,61.55 585.05,57.36 585.1,62.05 585.15,49.68 585.2,59.81 585.25,44.97 585.3,63.48 585.35,58.01 585.4,61.89 585.45,54.63 585.5,60.75 585.56,47.25 585.61,62.41 585.66,41.03 585.71,58.74 585.76,40.66 585.81,57.53 585.86,60.59 585.91,59.38 585.96,51.63 586.01,55.99 586.06,60.68 586.11,56.28 586.16,61.81 586.21,57.76 586.26,40.27 586.31,53.04 586.36,53.49 586.41,48.51 586.46,52.57 586.51,53.51 586.56,57.32 586.61,55.19 586.66,58.9 586.71,50.69 586.77,46.32 586.82,52.6 586.87,44.19 586.92,46.15 586.97,59.46 587.02,45.62 587.07,55.65 587.12,46.91 587.17,61.45 587.22,46.34 587.27,57.84 587.32,42.93 587.37,50.23 587.42,47.14 587.47,42.39 587.52,41.17 587.57,52.82 587.62,45.72 587.67,51.56 587.72,47.09 587.77,54.48 587.82,42.72 587.87,54.72 587.93,44.5 587.98,42.3 588.03,41.46 588.08,55.71 588.13,46.38 588.18,52.35 588.23,42.98 588.28,59.89 588.33,46.66 588.38,56.13 588.43,44.55 588.48,46.36 588.53,44.85 588.58,44.17 588.63,47.51 588.68,45.89 588.73,47.94 588.78,60.88 588.83,52.99 588.88,55 588.93,51.03 588.98,52.23 589.03,51.23 589.08,59.06 589.14,51.12 589.19,58.31 589.24,54.49 589.29,48.49 589.34,53.35 589.39,55.25 589.44,57.39 589.49,57.25 589.54,59.12 589.59,51.98 589.64,58.36 589.69,54.41 589.74,56.92 589.79,53.82 589.84,61.43 589.89,53.8 589.94,66.04 589.99,56.65 590.04,64.28 590.09,42.77 590.14,64.45 590.19,49.83 590.24,66.17 590.29,58.66 590.35,68.49 590.4,46.76 590.45,68.22 590.5,52.87 590.55,67.64 590.6,53.97 590.65,68.36 590.7,48.89 590.75,70.65 590.8,45.06 590.85,68.6 590.9,40.3 590.95,64 591,45.77 591.05,69.24 591.1,49.43 591.15,67.39 591.2,42.13 591.25,69.88 591.3,49.55 591.35,68.33 591.4,51.15 591.45,65.09 591.51,46.53 591.56,64 591.61,52.71 591.66,64.8 591.71,47.15 591.76,66.84 591.81,42.4 591.86,64.3 591.91,43.88 591.96,59.29 592.01,58.2 592.06,61.65 592.11,54.2 592.16,57.69 592.21,56.67 592.26,52.69 592.31,55.16 592.36,58.24 592.41,41.17 592.46,50.3 592.51,41.19 592.56,49.14 592.61,47.22 592.66,47.72 592.72,48.98 592.77,44.15 592.82,49.58 592.87,44.74 592.92,53.69 592.97,44.26 593.02,52.53 593.07,45.66 593.12,55.25 593.17,43.92 593.22,48.06 593.27,42.07 593.32,55.26 593.37,43.72 593.42,60.08 593.47,40.55 593.52,57.87 593.57,39.62 593.62,58.92 593.67,37.18 593.72,58.68 593.77,35.71 593.82,53.51 593.88,37.01 593.93,57.34 593.98,36.85 594.03,49.84 594.08,37.58 594.13,41.43 594.18,38.43 594.23,48.86 594.28,38.56 594.33,61.85 594.38,38.98 594.43,51.38 594.48,38.18 594.53,59.64 594.58,41.32 594.63,48.47 594.68,43.53 594.73,61.57 594.78,46.48 594.83,47.84 594.88,46.52 594.93,50.46 594.98,49.7 595.03,40.2 595.09,49.45 595.14,48.44 595.19,51.7 595.24,59.42 595.29,54.63 595.34,40.72 595.39,54.74 595.44,56.38 595.49,59.74 595.54,53.04 595.59,57.09 595.64,49.27 595.69,62.08 595.74,48.6 595.79,62.32 595.84,47.01 595.89,64.87 595.94,43.55 595.99,62.71 596.04,47.57 596.09,66.1 596.14,44.59 596.19,70.19 596.24,52.16 596.3,72.62 596.35,46 596.4,69.46 596.45,60.7 596.5,74.03 596.55,56.5 596.6,70.39 596.65,43.2 596.7,72.24 596.75,54.41 596.8,73.89 596.85,59.98 596.9,72.26 596.95,54.91 597,71.83 597.05,49.9 597.1,70.3 597.15,50.58 597.2,70.01 597.25,44.77 597.3,73.97 597.35,55.67 597.4,69.98 597.46,59.66 597.51,65.67 597.56,57.79 597.61,67.64 597.66,51.11 597.71,63.09 597.76,48.45 597.81,62.18 597.86,43.3 597.91,65.55 597.96,56.4 598.01,55.02 598.06,49.46 598.11,57.01 598.16,48.7 598.21,56.8 598.26,40.38 598.31,50.61 598.36,50.15 598.41,50.28 598.46,47.05 598.51,50.7 598.56,61.54 598.61,47.17 598.67,47.15 598.72,47.29 598.77,57.26 598.82,46.37 598.87,50.34 598.92,40.54 598.97,48.23 599.02,41.12 599.07,57.68 599.12,43.41 599.17,54.21 599.22,39.03 599.27,46.81 599.32,40.68 599.37,51.75 599.42,38.46 599.47,42.1 599.52,37.61 599.57,60.02 599.62,34.49 599.67,41.59 599.72,37.65 599.77,43.05 599.83,35.95 599.88,40.21 599.93,36.25 599.98,43.55 600.03,32.83 600.08,48.65 600.13,36.09 600.18,52.89 600.23,36.4 600.28,56.09 600.33,33.19 600.38,53.24 600.43,40.09 600.48,51.66 600.53,41.49 600.58,50.86 600.63,40.64 600.68,51.72 600.73,42.56 600.78,48.88 600.83,46.6 600.88,52.68 600.93,43.16 600.98,42.65 601.04,43.97 601.09,56.91 601.14,47.88 601.19,48.45 601.24,49.54 601.29,44.74 601.34,49.83 601.39,45.5 601.44,49.39 601.49,57.88 601.54,53.33 601.59,55.76 601.64,54.41 601.69,59.97 601.74,55.74 601.79,43.65 601.84,61.83 601.89,49.08 601.94,59.9 601.99,47.19 602.04,64.17 602.09,44.57 602.14,59.22 602.19,61.91 602.25,60.94 602.3,61.68 602.35,61.93 602.4,58.81 602.45,64.12 602.5,50.84 602.55,68.47 602.6,58.35 602.65,68.8 602.7,53.55 602.75,64.96 602.8,56.56 602.85,64.03 602.9,45.63 602.95,67.23 603,57.02 603.05,66.24 603.1,56.64 603.15,64.76 603.2,40.86 603.25,63.69 603.3,60.68 603.35,65.34 603.41,53.25 603.46,61.05 603.51,54.03 603.56,61.12 603.61,44.58 603.66,56.23 603.71,43.19 603.76,57.83 603.81,47.78 603.86,60.4 603.91,49.04 603.96,54.17 604.01,49.67 604.06,57.72 604.11,55.11 604.16,53.65 604.21,51.78 604.26,54.01 604.31,50.74 604.36,51.67 604.41,49.26 604.46,46.72 604.51,59.3 604.56,48.5 604.62,50.71 604.67,48.31 604.72,53.24 604.77,49.32 604.82,61.7 604.87,46.21 604.92,52.03 604.97,47.21 605.02,40.02 605.07,42.93 605.12,46.04 605.17,35.49 605.22,46.49 605.27,42.74 605.32,55.43 605.37,37.67 605.42,45.76 605.47,39.12 605.52,41.38 605.57,41.76 605.62,60.96 605.67,39.2 605.72,57.18 605.78,37.7 605.83,53.81 605.88,37.63 605.93,53.83 605.98,39.62 606.03,54.5 606.08,39.31 606.13,51.47 606.18,37.55 606.23,43.9 606.28,39.39 606.33,45.45 606.38,41.58 606.43,53.88 606.48,43.16 606.53,46.52 606.58,43.29 606.63,44.3 606.68,41.28 606.73,42.02 606.78,48.33 606.83,43.97 606.88,46.76 606.93,54.59 606.99,48.6 607.04,55.9 607.09,51.99 607.14,59.4 607.19,55.21 607.24,51.22 607.29,53.87 607.34,47.84 607.39,57.25 607.44,49.79 607.49,54.07 607.54,43.95 607.59,60.65 607.64,54.76 607.69,62.91 607.74,56.6 607.79,62.32 607.84,41.04 607.89,66.77 607.94,51.85 607.99,67.09 608.04,60.59 608.09,63.48 608.14,56.49 608.2,65.69 608.25,55.87 608.3,68.33 608.35,53.99 608.4,68.15 608.45,58.08 608.5,67.97 608.55,44.98 608.6,66.43 608.65,45.23 608.7,69.35 608.75,60.88 608.8,66.98 608.85,48.9 608.9,68.47 608.95,57.23 609,67.99 609.05,50.98 609.1,67.36 609.15,48.78 609.2,68.17 609.25,53.9 609.3,65.58 609.36,40.09 609.41,63.9 609.46,56.45 609.51,62.39 609.56,53.01 609.61,63.3 609.66,45.85 609.71,62.76 609.76,59.56 609.81,58.99 609.86,58.61 609.91,58.7 609.96,43.8 610.01,57.11 610.06,47.35 610.11,53.07 610.16,58.26 610.21,54.19 610.26,59.85 610.31,56.17 610.36,50 610.41,48.41 610.46,41.35 610.51,51.47 610.57,60.09 610.62,48.72 610.67,58.1 610.72,44.06 610.77,53.49 610.82,44.4 610.87,54.96 610.92,44.12 610.97,56.06 611.02,43.64 611.07,59.01 611.12,44.36 611.17,51.4 611.22,43.68 611.27,41.17 611.32,41 611.37,56.24 611.42,41.68 611.47,50.95 611.52,38.62 611.57,58.34 611.62,37.04 611.67,49.68 611.73,37.63 611.78,41.7 611.83,39.6 611.88,43 611.93,41.57 611.98,54.23 612.03,43.17 612.08,54.16 612.13,42.34 612.18,55.31 612.23,42.02 612.28,45.95 612.33,39.44 612.38,42.72 612.43,44.21 612.48,49.44 612.53,45.43 612.58,49.04 612.63,45.46 612.68,53.86 612.73,48.25 612.78,46.31 612.83,49.63 612.88,45.31 612.94,47.09 612.99,56.63 613.04,50.87 613.09,57.4 613.14,49.5 613.19,46.04 613.24,50.91 613.29,44.53 613.34,54.43 613.39,49.14 613.44,58.57 613.49,48.84 613.54,57.85 613.59,59.75 613.64,63.8 613.69,48.02 613.74,64.88 613.79,54.51 613.84,60.69 613.89,50.37 613.94,65.59 613.99,43.37 614.04,67.47 614.09,51.29 614.15,65.5 614.2,43.68 614.25,67.82 614.3,40.5 614.35,70.45 614.4,57.21 614.45,71.71 614.5,50.77 614.55,66.32 614.6,51.99 614.65,69.78 614.7,58.53 614.75,70.06 614.8,42.69 614.85,66.38 614.9,55.35 614.95,65.61 615,59.92 615.05,67.65 615.1,50.4 615.15,65.76 615.2,46.84 615.25,66.46 615.31,46.71 615.36,67.95 615.41,43.54 615.46,65.79 615.51,40.82 615.56,60.36 615.61,41.27 615.66,62.86 615.71,52.59 615.76,60.82 615.81,54.68 615.86,56.76 615.91,48.21 615.96,59.64 616.01,55.48 616.06,56.35 616.11,42.62 616.16,55.5 616.21,55.03 616.26,53.05 616.31,54.91 616.36,44.75 616.41,52.66 616.46,52.13 616.52,58.84 616.57,47.45 616.62,52.53 616.67,42.95 616.72,51.94 616.77,40.95 616.82,44.9 616.87,44.89 616.92,59.86 616.97,44 617.02,41.04 617.07,40.94 617.12,58.08 617.17,42.91 617.22,49.25 617.27,39.12 617.32,43.4 617.37,37.59 617.42,49.64 617.47,41.15 617.52,61.35 617.57,35.4 617.62,60.36 617.68,38.64 617.73,61.46 617.78,37.62 617.83,45.64 617.88,39.57 617.93,51.48 617.98,43.06 618.03,42.74 618.08,41.53 618.13,45.02 618.18,42.58 618.23,53.47 618.28,38.31 618.33,54.72 618.38,41.52 618.43,61.5 618.48,44.22 618.53,46.32 618.58,44.9 618.63,41 618.68,46.32 618.73,47.46 618.78,44.96 618.83,58.1 618.89,51.82 618.94,52.79 618.99,50.99 619.04,61.98 619.09,51.68 619.14,45.43 619.19,52.88 619.24,59.93 619.29,52.53 619.34,54.38 619.39,54.65 619.44,58.04 619.49,58.21 619.54,41.51 619.59,58.4 619.64,49.04 619.69,56.58 619.74,55.59 619.79,57.86 619.84,45.12 619.89,60.17 619.94,48.51 619.99,62.16 620.04,55.96 620.1,61.83 620.15,59.19 620.2,66.48 620.25,57.34 620.3,61.83 620.35,60.64 620.4,64.39 620.45,57.04 620.5,61.75 620.55,50.11 620.6,67.96 620.65,49.65 620.7,63.24 620.75,46.35 620.8,62.24 620.85,51.07 620.9,60.27 620.95,41.82 621,64.85 621.05,60.94 621.1,63.69 621.15,52.01 621.2,63.8 621.26,59.14 621.31,61.02 621.36,47.5 621.41,58.75 621.46,42.66 621.51,64.85 621.56,51.08 621.61,64.12 621.66,44.11 621.71,59.03 621.76,41.27 621.81,54.02 621.86,48.15 621.91,58.31 621.96,54.32 622.01,54.62 622.06,60.71 622.11,49.24 622.16,45.16 622.21,51.99 622.26,41 622.31,49.4 622.36,58.85 622.41,45.51 622.47,50.29 622.52,49 622.57,50.89 622.62,51.23 622.67,43.24 622.72,46.79 622.77,49.34 622.82,47.26 622.87,48.98 622.92,44.99 622.97,42.6 623.02,46.81 623.07,45.15 623.12,43.23 623.17,46.84 623.22,42.04 623.27,44.57 623.32,44.74 623.37,41.22 623.42,43.8 623.47,58.75 623.52,42.14 623.57,43.81 623.63,42.72 623.68,43.15 623.73,39.7 623.78,50.03 623.83,41.61 623.88,40.99 623.93,42.48 623.98,56.66 624.03,42.66 624.08,60.83 624.13,45.14 624.18,57.32 624.23,47.6 624.28,41.02 624.33,48.46 624.38,50.23 624.43,45.09 624.48,51.64 624.53,48.22 624.58,42.41 624.63,50.88 624.68,57.81 624.73,52.47 624.78,44 624.84,51.73 624.89,47.86 624.94,55.38 624.99,59.19 625.04,56.74 625.09,50.71 625.14,59.94 625.19,54.43 625.24,60.1 625.29,42.97 625.34,62.9 625.39,50.86 625.44,60.12 625.49,56.98 625.54,64.09 625.59,54.76 625.64,60.11 625.69,51.74 625.74,62.79 625.79,41.83 625.84,67.57 625.89,55.99 625.94,66.06 625.99,42.35 626.05,72.48 626.1,53.9 626.15,68.69 626.2,44.14 626.25,68.22 626.3,40.13 626.35,71.46 626.4,41.08 626.45,72.08 626.5,59.3 626.55,70.61 626.6,57.85 626.65,67.23 626.7,50.19 626.75,70.49 626.8,45.25 626.85,71.63 626.9,61.92 626.95,71.75 627,49.68 627.05,68.59 627.1,50.1 627.15,64.29 627.21,52.99 627.26,66.87 627.31,48.24 627.36,67.59 627.41,54.21 627.46,63.8 627.51,55.34 627.56,61.97 627.61,61.06 627.66,60.55 627.71,43.69 627.76,64.15 627.81,45.9 627.86,56.93 627.91,61.77 627.96,55.11 628.01,47.23 628.06,54.95 628.11,49.52 628.16,50.67 628.21,44.86 628.26,53.39 628.31,42.61 628.36,50.14 628.42,51.04 628.47,48.87 628.52,45.05 628.57,49.23 628.62,47.78 628.67,47.31 628.72,46.1 628.77,44.52 628.82,46.79 628.87,42.8 628.92,61.54 628.97,37.57 629.02,49.18 629.07,40.69 629.12,46.34 629.17,39.8 629.22,52.19 629.27,38.35 629.32,53.78 629.37,38.4 629.42,60.74 629.47,37.77 629.52,53.81 629.58,40 629.63,43.57 629.68,41.14 629.73,60.25 629.78,34.79 629.83,59.26 629.88,37.11 629.93,60.89 629.98,39.9 630.03,54.97 630.08,40.7 630.13,48.18 630.18,44.27 630.23,57.05 630.28,42.98 630.33,61.62 630.38,45.06 630.43,50.46 630.48,40.24 630.53,41.82 630.58,43.07 630.63,61.03 630.68,45.7 630.73,49.94 630.79,49.47 630.84,59.06 630.89,49.12 630.94,54.29 630.99,49.87 631.04,54.53 631.09,51.05 631.14,59.81 631.19,51.22 631.24,48.72 631.29,52.72 631.34,53.4 631.39,54.85 631.44,47.14 631.49,58.37 631.54,54.29 631.59,56.11 631.64,50.17 631.69,56.39 631.74,44.32 631.79,58.89 631.84,48.87 631.89,60.34 631.94,56.99 632,58.79 632.05,42.37 632.1,62.35 632.15,52.48 632.2,60.32 632.25,44.09 632.3,60.36 632.35,50.85 632.4,61.8 632.45,60.33 632.5,61.44 632.55,52.54 632.6,64.87 632.65,61.32 632.7,66.03 632.75,40.22 632.8,61.93 632.85,50.08 632.9,62.92 632.95,47.85 633,63.27 633.05,48.02 633.1,60.88 633.16,43.73 633.21,57.1 633.26,58.84 633.31,57.98 633.36,50.27 633.41,55.61 633.46,61.29 633.51,54.84 633.56,41.91 633.61,54.29 633.66,42.44 633.71,53.98 633.76,55.82 633.81,54.59 633.86,43.18 633.91,49.35 633.96,50.04 634.01,47.52 634.06,47.51 634.11,44.93 634.16,53.76 634.21,45.62 634.26,52.23 634.31,49.12 634.37,50.02 634.42,43.48 634.47,42.83 634.52,44.55 634.57,51.54 634.62,40.04 634.67,54.97 634.72,39.21 634.77,40.14 634.82,40.73 634.87,54.16 634.92,41.11 634.97,56.16 635.02,35.91 635.07,51.69 635.12,37.22 635.17,47.72 635.22,36.29 635.27,44.52 635.32,37.03 635.37,60.12 635.42,34.21 635.47,54.5 635.53,36.99 635.58,52.53 635.63,34.33 635.68,52.75 635.73,34.49 635.78,43.24 635.83,39.9 635.88,51.72 635.93,36.84 635.98,49.88 636.03,36.86 636.08,47.08 636.13,35.61 636.18,55.36 636.23,37.99 636.28,41.88 636.33,40.56 636.38,50.64 636.43,41.51 636.48,51.96 636.53,40.77 636.58,46.5 636.63,45.06 636.68,47.62 636.74,42.1 636.79,48.57 636.84,48.12 636.89,40.91 636.94,50.34 636.99,57.76 637.04,48.67 637.09,54.76 637.14,47.95 637.19,49.09 637.24,51.92 637.29,45.63 637.34,55.6 637.39,51.64 637.44,54.1 637.49,40.94 637.54,54.13 637.59,61.2 637.64,58.59 637.69,60.09 637.74,58.39 637.79,44.6 637.84,58.93 637.89,41.7 637.95,62.73 638,59.16 638.05,61.01 638.1,55.25 638.15,58.8 638.2,44.11 638.25,63.76 638.3,47.75 638.35,61.51 638.4,41.08 638.45,61.1 638.5,42.57 638.55,62.23 638.6,53.44 638.65,59.46 638.7,42.03 638.75,62.74 638.8,54.56 638.85,60.32 638.9,49.36 638.95,58.65 639,49.28 639.05,60.12 639.11,57.1 639.16,54 639.21,58.61 639.26,57.92 639.31,42.68 639.36,53.26 639.41,51.04 639.46,55.86 639.51,44.76 639.56,55.62 639.61,59.73 639.66,50.06 639.71,60.94 639.76,48.27 639.81,40.31 639.86,51.72 639.91,46.23 639.96,47.27 640.01,50.11 640.06,51.19 640.11,51.93 640.16,48.49 640.21,51.36 640.26,44.31 640.32,40.59 640.37,47.34 640.42,55.8 640.47,43.18 640.52,53.93 640.57,42.49 640.62,45.04 640.67,41.02 640.72,43.69 640.77,38.65 640.82,46.97 640.87,34.5 640.92,57.97 640.97,36.53 641.02,42.66 641.07,36.75 641.12,59.37 641.17,38.8 641.22,60.23 641.27,35.09 641.32,50.39 641.37,37.34 641.42,46.05 641.48,34.96 641.53,46.17 641.58,33.08 641.63,40.11 641.68,36.93 641.73,45.07 641.78,39.15 641.83,60.36 641.88,39.26 641.93,55.44 641.98,37.23 642.03,59.7 642.08,40.8 642.13,49.69 642.18,36.38 642.23,44.52 642.28,40.57 642.33,50.6 642.38,38.98 642.43,57.23 642.48,42.45 642.53,52.46 642.58,41.83 642.63,60.28 642.69,45.87 642.74,47.92 642.79,48.97 642.84,58.79 642.89,46.07 642.94,46.39 642.99,50.37 643.04,43.79 643.09,47.98 643.14,49.27 643.19,54.63 643.24,47.03 643.29,47.43 643.34,45.25 643.39,54.77 643.44,42.33 643.49,55.55 643.54,40.83 643.59,54.14 643.64,48.85 643.69,54.57 643.74,52.69 643.79,55.84 643.84,55.95 643.9,56.43 643.95,59.73 644,62.01 644.05,51.1 644.1,61.56 644.15,45.49 644.2,58.9 644.25,53.69 644.3,63.32 644.35,50.35 644.4,58.4 644.45,57.56 644.5,62.31 644.55,41.69 644.6,66.89 644.65,57.65 644.7,62.67 644.75,44.13 644.8,60.67 644.85,41.75 644.9,63.63 644.95,58.06 645,59.22 645.06,57.15 645.11,58.48 645.16,48.58 645.21,59.21 645.26,59.8 645.31,53.99 645.36,46.17 645.41,55.46 645.46,53.84 645.51,56.31 645.56,50.83 645.61,51.82 645.66,46.19 645.71,52.05 645.76,55.31 645.81,47.85 645.86,61.54 645.91,50.89 645.96,59.03 646.01,47.31 646.06,46.87 646.11,46.16 646.16,57.7 646.21,46.73 646.27,60.98 646.32,46.66 646.37,49.76 646.42,43.22 646.47,49.74 646.52,40.6 646.57,60.24 646.62,40.82 646.67,58.03 646.72,42.04 646.77,60.93 646.82,39.24 646.87,53.37 646.92,37.08 646.97,49.57 647.02,38.22 647.07,56.5 647.12,35.77 647.17,53.82 647.22,37 647.27,52.7 647.32,38.49 647.37,57.62 647.43,36.67 647.48,53.24 647.53,35.55 647.58,57.02 647.63,35.92 647.68,53.22 647.73,33.99 647.78,48.93 647.83,35.42 647.88,42.34 647.93,37.23 647.98,43.41 648.03,38.4 648.08,41.32 648.13,42 648.18,61.16 648.23,37.23 648.28,41.99 648.33,44 648.38,45.08 648.43,42.95 648.48,44.44 648.53,42.42 648.58,57.09 648.64,45.49 648.69,48.34 648.74,47.26 648.79,56.88 648.84,46.36 648.89,59.83 648.94,46.89 648.99,58.36 649.04,50.65 649.09,57.83 649.14,56.5 649.19,47.8 649.24,50.93 649.29,58.63 649.34,52.47 649.39,49.33 649.44,55.49 649.49,47.51 649.54,57.27 649.59,53.44 649.64,59.03 649.69,61.29 649.74,58.96 649.79,46.67 649.85,63.52 649.9,57.26 649.95,63.85 650,46.74 650.05,63.01 650.1,41.39 650.15,61.18 650.2,53.4 650.25,63.7 650.3,44.43 650.35,60.4 650.4,56.7 650.45,61.51 650.5,59.3 650.55,60.87 650.6,52.89 650.65,60.43 650.7,41.4 650.75,62.34 650.8,55 650.85,61.32 650.9,43.16 650.95,61.03 651.01,45.7 651.06,57.76 651.11,42.48 651.16,55.44 651.21,53.58 651.26,60.41 651.31,54.54 651.36,54.04 651.41,47.94 651.46,55.2 651.51,53.48 651.56,57.25 651.61,61.08 651.66,51.79 651.71,49.42 651.76,52.96 651.81,53.02 651.86,48.16 651.91,51.8 651.96,53.83 652.01,51.43 652.06,48.56 652.11,41.45 652.16,53.87 652.22,46.06 652.27,45.73 652.32,51.67 652.37,48.24 652.42,58.03 652.47,47.96 652.52,40.19 652.57,48.05 652.62,50.3 652.67,49.01 652.72,58.43 652.77,43.59 652.82,42.73 652.87,45.67 652.92,42.97 652.97,41.77 653.02,52.09 653.07,43.91 653.12,58.33 653.17,42.02 653.22,43.96 653.27,39.38 653.32,44.66 653.38,40.48 653.43,40.6 653.48,42.96 653.53,42.9 653.58,43.9 653.63,44.73 653.68,42.41 653.73,56.56 653.78,45.36 653.83,52.01 653.88,43.71 653.93,53.12 653.98,45.82 654.03,53.64 654.08,45.35 654.13,40.31 654.18,46.41 654.23,53.58 654.28,44.24 654.33,41.14 654.38,48.4 654.43,44.57 654.48,49.12 654.53,45.23 654.59,51.02 654.64,42.78 654.69,55.21 654.74,61.92 654.79,56.44 654.84,58.55 654.89,50.47 654.94,52.39 654.99,55.07 655.04,52.92 655.09,57.68 655.14,43.86 655.19,56.62 655.24,49.61 655.29,59.25 655.34,45.67 655.39,54.5 655.44,44.69 655.49,61.96 655.54,61.88 655.59,59.15 655.64,46.93 655.69,61.31 655.74,49.91 655.8,61.17 655.85,54.09 655.9,63.07 655.95,45.93 656,59.14 656.05,61.31 656.1,59.02 656.15,43.03 656.2,62.39 656.25,56.78 656.3,61.69 656.35,56.25" fill="none" stroke="#870087" stroke-width="1.25" clip-path="url(#cic)"/>
<line x1="530" y1="6.4" x2="530" y2="116.3" stroke="#1e1e1e" stroke-width="1.3"/>
<line x1="530" y1="116.3" x2="653.7" y2="116.3" stroke="#1e1e1e" stroke-width="1.3"/>
<line x1="530" y1="7.8" x2="534" y2="7.8" stroke="#1e1e1e" stroke-width="1.3"/>
<line x1="530" y1="22.3" x2="537" y2="22.3" stroke="#1e1e1e" stroke-width="1.3"/>
<line x1="530" y1="36.8" x2="534" y2="36.8" stroke="#1e1e1e" stroke-width="1.3"/>
<line x1="530" y1="51.3" x2="537" y2="51.3" stroke="#1e1e1e" stroke-width="1.3"/>
<line x1="530" y1="65.8" x2="534" y2="65.8" stroke="#1e1e1e" stroke-width="1.3"/>
<line x1="530" y1="80.3" x2="537" y2="80.3" stroke="#1e1e1e" stroke-width="1.3"/>
<line x1="530" y1="94.8" x2="534" y2="94.8" stroke="#1e1e1e" stroke-width="1.3"/>
<line x1="530" y1="109.3" x2="537" y2="109.3" stroke="#1e1e1e" stroke-width="1.3"/>
<line x1="561.1" y1="116.3" x2="561.1" y2="112.3" stroke="#1e1e1e" stroke-width="1.3"/>
<line x1="561.1" y1="6.4" x2="561.1" y2="10.4" stroke="#1e1e1e" stroke-width="1.3"/>
<line x1="592.2" y1="116.3" x2="592.2" y2="109.3" stroke="#1e1e1e" stroke-width="1.3"/>
<line x1="592.2" y1="6.4" x2="592.2" y2="13.4" stroke="#1e1e1e" stroke-width="1.3"/>
<line x1="623.3" y1="116.3" x2="623.3" y2="112.3" stroke="#1e1e1e" stroke-width="1.3"/>
<line x1="623.3" y1="6.4" x2="623.3" y2="10.4" stroke="#1e1e1e" stroke-width="1.3"/>
<rect x="583.2" y="6.4" width="70.5" height="23" fill="#fff" stroke="#1e1e1e" stroke-width="1.3"/>
<rect x="37.7" y="6.4" width="195.6" height="210.2" fill="none" stroke="#1e1e1e" stroke-width="1.3"/>
<rect x="233.3" y="6.4" width="210.3" height="210.2" fill="none" stroke="#1e1e1e" stroke-width="1.3"/>
<rect x="443.6" y="6.4" width="210.1" height="210.2" fill="none" stroke="#1e1e1e" stroke-width="1.3"/>
<text x="20.45" y="10.6" font-size="15.5" textLength="9.43" lengthAdjust="spacingAndGlyphs">2</text>
<text x="21.7" y="92" font-size="15.5" textLength="5.56" lengthAdjust="spacingAndGlyphs">1</text>
<text x="21.12" y="172.5" font-size="15.5" textLength="8.11" lengthAdjust="spacingAndGlyphs">0</text>
<text x="36.53" y="236.6" font-size="15.5" textLength="7.88" lengthAdjust="spacingAndGlyphs">0</text>
<text x="99.58" y="236.6" font-size="15.5" textLength="25.71" lengthAdjust="spacingAndGlyphs">300</text>
<text x="171.42" y="236.6" font-size="15.5" textLength="25.97" lengthAdjust="spacingAndGlyphs">600</text>
<text x="103.89" y="261" font-size="15.5" textLength="64" lengthAdjust="spacingAndGlyphs">Time (ps)</text>
<text x="45.34" y="19.3" font-size="15.5" textLength="17.44" lengthAdjust="spacingAndGlyphs">(a)</text>
<text x="15" y="147.64" font-size="15.5" textLength="63.93" lengthAdjust="spacingAndGlyphs" transform="rotate(-90 15 147.64)">&#916;R/R &#183; 10</text>
<text x="6.8" y="83.02" font-size="9.0" textLength="9.22" lengthAdjust="spacingAndGlyphs" transform="rotate(-90 6.8 83.02)">-3</text>
<text x="165.4" y="21.2" font-size="14.4" textLength="59.94" lengthAdjust="spacingAndGlyphs">Sample A</text>
<text x="226.13" y="26.5" font-size="9.0" textLength="4.35" lengthAdjust="spacingAndGlyphs">p</text>
<text x="165.39" y="42.5" font-size="14.4" textLength="61.25" lengthAdjust="spacingAndGlyphs">Sample B</text>
<text x="226.73" y="47.8" font-size="9.0" textLength="4.35" lengthAdjust="spacingAndGlyphs">p</text>
<text x="236.55" y="19.8" font-size="15.5" textLength="19.44" lengthAdjust="spacingAndGlyphs">(b)</text>
<text x="230.93" y="236.6" font-size="15.5" textLength="7.88" lengthAdjust="spacingAndGlyphs">0</text>
<text x="304.28" y="236.6" font-size="15.5" textLength="18.25" lengthAdjust="spacingAndGlyphs">75</text>
<text x="378.86" y="236.6" font-size="15.5" textLength="25.83" lengthAdjust="spacingAndGlyphs">150</text>
<text x="278.25" y="261" font-size="15.5" textLength="119.65" lengthAdjust="spacingAndGlyphs">Frequency (GHz)</text>
<text x="253.6" y="200.95" font-size="15.5" textLength="179.66" lengthAdjust="spacingAndGlyphs" transform="rotate(-90 253.6 200.95)">FFT amplitude (arb. units)</text>
<text x="445.09" y="19.8" font-size="15.5" textLength="17.6" lengthAdjust="spacingAndGlyphs">(c)</text>
<text x="439.09" y="236.6" font-size="15.5" textLength="8.46" lengthAdjust="spacingAndGlyphs">0</text>
<text x="514.38" y="236.6" font-size="15.5" textLength="15.98" lengthAdjust="spacingAndGlyphs">75</text>
<text x="587.6" y="236.6" font-size="15.5" textLength="27.12" lengthAdjust="spacingAndGlyphs">150</text>
<text x="488.85" y="261" font-size="15.5" textLength="119.55" lengthAdjust="spacingAndGlyphs">Frequency (GHz)</text>
<text x="671.6" y="200.85" font-size="15.5" textLength="179.76" lengthAdjust="spacingAndGlyphs" transform="rotate(-90 671.6 200.85)">FFT amplitude (arb. units)</text>
<text x="305.24" y="17.9" font-size="14.6" textLength="7.37" lengthAdjust="spacingAndGlyphs">2</text>
<text x="305.7" y="76.2" font-size="14.0" textLength="6.95" lengthAdjust="spacingAndGlyphs">0</text>
<text x="317.68" y="134.4" font-size="14.0" textLength="7.18" lengthAdjust="spacingAndGlyphs">0</text>
<text x="372.21" y="134.4" font-size="14.0" textLength="23.02" lengthAdjust="spacingAndGlyphs">250</text>
<text x="353.02" y="148.8" font-size="14.0" textLength="58.38" lengthAdjust="spacingAndGlyphs">Time (ps)</text>
<text x="301" y="77.75" font-size="14.5" textLength="36.11" lengthAdjust="spacingAndGlyphs" transform="rotate(-90 301 77.75)">&#916;R/R</text>
<text x="375.19" y="21.2" font-size="14.4" textLength="60.75" lengthAdjust="spacingAndGlyphs">Sample A</text>
<text x="436.5" y="26.5" font-size="9.0" textLength="4.59" lengthAdjust="spacingAndGlyphs">p</text>
<text x="515.58" y="27" font-size="14.0" textLength="3.62" lengthAdjust="spacingAndGlyphs">1</text>
<text x="514.27" y="55.7" font-size="14.0" textLength="7.41" lengthAdjust="spacingAndGlyphs">0</text>
<text x="509.09" y="84.5" font-size="14.0" textLength="11.45" lengthAdjust="spacingAndGlyphs">-1</text>
<text x="509.04" y="113.5" font-size="14.0" textLength="12.45" lengthAdjust="spacingAndGlyphs">-2</text>
<text x="524.82" y="136" font-size="14.0" textLength="6.6" lengthAdjust="spacingAndGlyphs">0</text>
<text x="579" y="136" font-size="14.0" textLength="23.23" lengthAdjust="spacingAndGlyphs">250</text>
<text x="556.22" y="149.4" font-size="14.0" textLength="58.38" lengthAdjust="spacingAndGlyphs">Time (ps)</text>
<text x="507.6" y="79.24" font-size="13.5" textLength="34.97" lengthAdjust="spacingAndGlyphs" transform="rotate(-90 507.6 79.24)">&#916;R/R</text>
<text x="585.19" y="20.9" font-size="14.4" textLength="61.25" lengthAdjust="spacingAndGlyphs">Sample B</text>
<text x="646.6" y="26.2" font-size="9.0" textLength="4.59" lengthAdjust="spacingAndGlyphs">p</text>
</svg>
</body></html>
